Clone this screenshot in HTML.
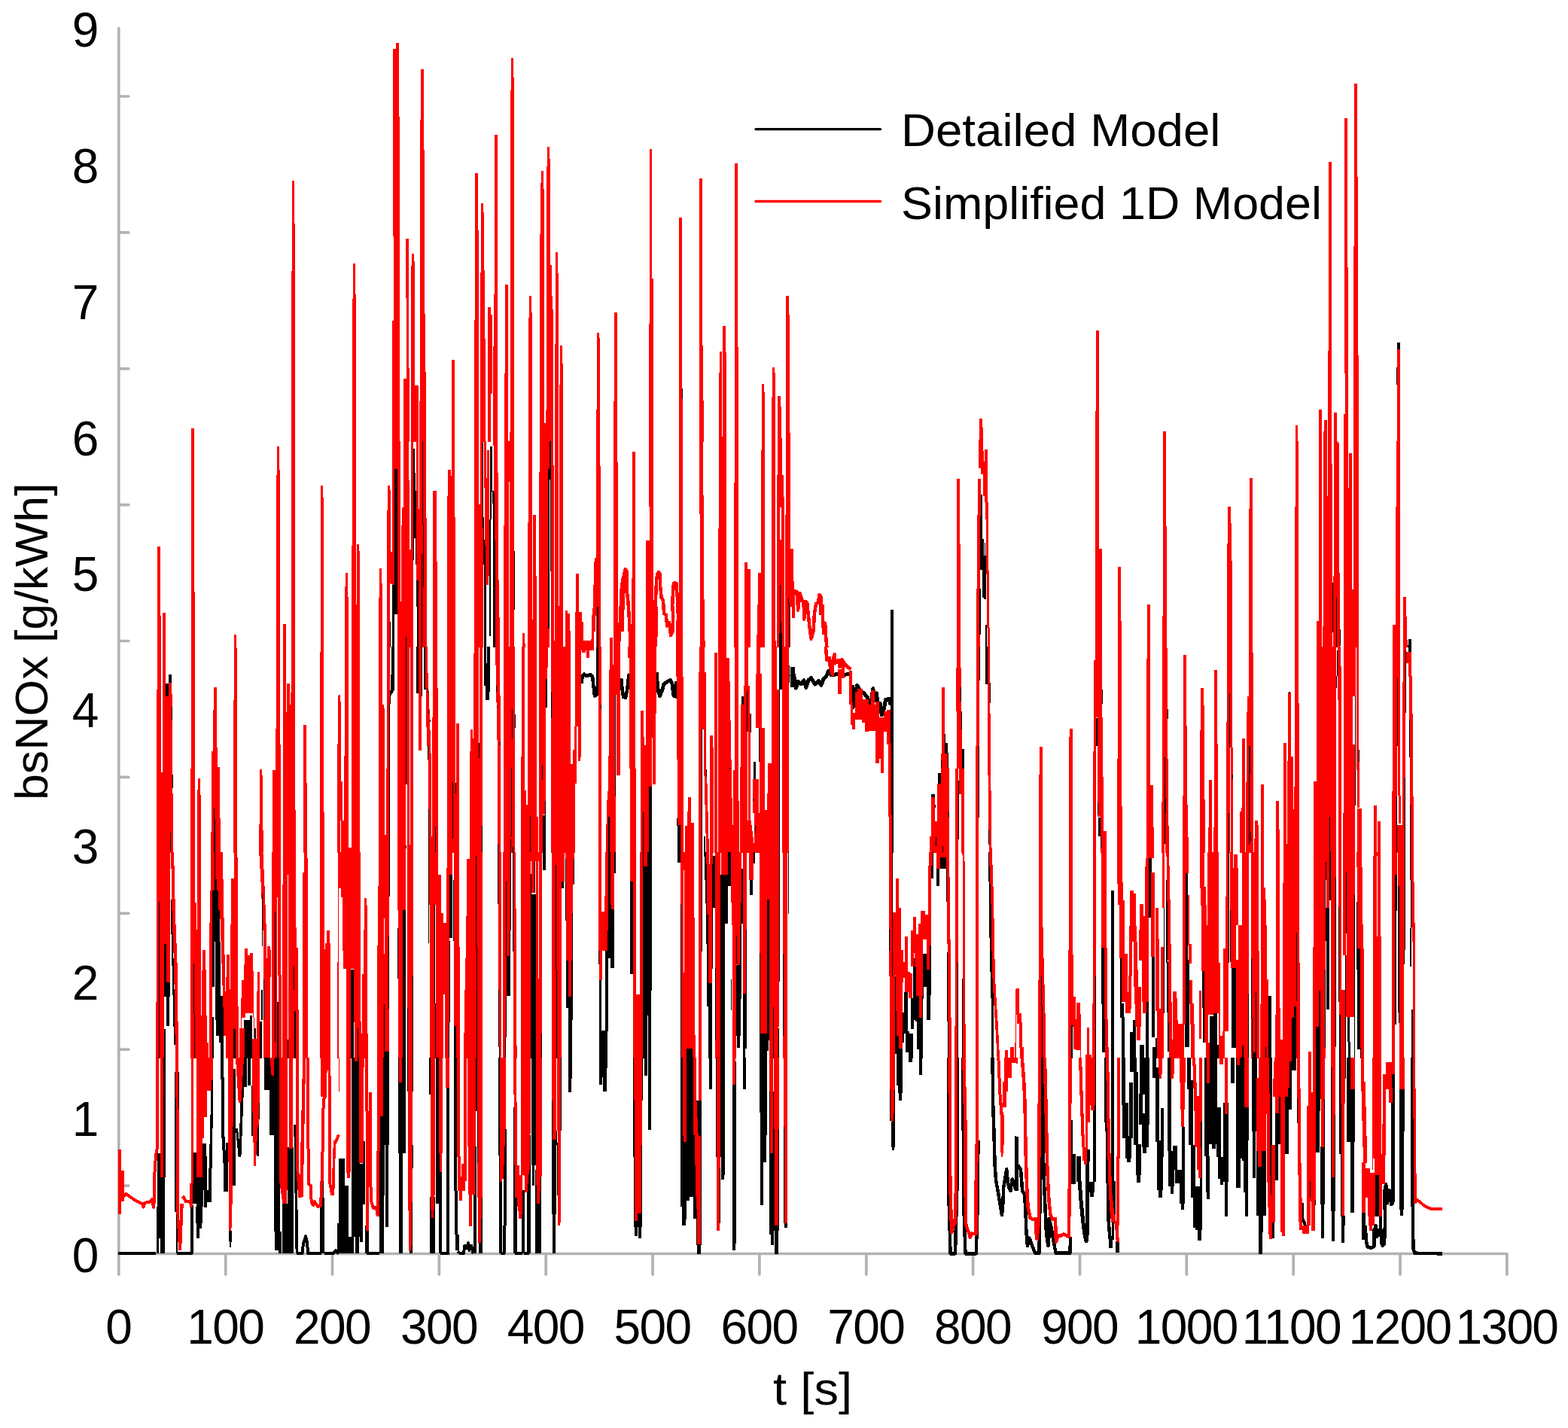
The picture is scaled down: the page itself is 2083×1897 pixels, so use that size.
<!DOCTYPE html>
<html lang="en">
<head>
<meta charset="utf-8">
<title>bsNOx [g/kWh] vs t [s]</title>
<style>
html,body{margin:0;padding:0;background:#fff;}
body{width:2083px;height:1897px;overflow:hidden;}
svg{display:block;}
text{font-family:"Liberation Sans",sans-serif;fill:#000;}
</style>
</head>
<body>
<svg xmlns="http://www.w3.org/2000/svg" width="2083" height="1897" viewBox="0 0 2083 1897">
<rect x="0" y="0" width="2083" height="1897" fill="#ffffff"/>
<g stroke="#b2b2b2" stroke-width="3.7" stroke-linecap="round" fill="none">
<line x1="157.8" y1="37.6" x2="157.8" y2="1693.0"/>
<line x1="157.8" y1="1665.5" x2="2001.9" y2="1665.5"/>
<line x1="299.7" y1="1665.5" x2="299.7" y2="1693.0"/>
<line x1="441.5" y1="1665.5" x2="441.5" y2="1693.0"/>
<line x1="583.4" y1="1665.5" x2="583.4" y2="1693.0"/>
<line x1="725.2" y1="1665.5" x2="725.2" y2="1693.0"/>
<line x1="867.0" y1="1665.5" x2="867.0" y2="1693.0"/>
<line x1="1008.9" y1="1665.5" x2="1008.9" y2="1693.0"/>
<line x1="1150.8" y1="1665.5" x2="1150.8" y2="1693.0"/>
<line x1="1292.6" y1="1665.5" x2="1292.6" y2="1693.0"/>
<line x1="1434.5" y1="1665.5" x2="1434.5" y2="1693.0"/>
<line x1="1576.3" y1="1665.5" x2="1576.3" y2="1693.0"/>
<line x1="1718.2" y1="1665.5" x2="1718.2" y2="1693.0"/>
<line x1="1860.0" y1="1665.5" x2="1860.0" y2="1693.0"/>
<line x1="2001.9" y1="1665.5" x2="2001.9" y2="1693.0"/>
<line x1="157.8" y1="1575.1" x2="170.8" y2="1575.1"/>
<line x1="157.8" y1="1394.2" x2="170.8" y2="1394.2"/>
<line x1="157.8" y1="1213.3" x2="170.8" y2="1213.3"/>
<line x1="157.8" y1="1032.4" x2="170.8" y2="1032.4"/>
<line x1="157.8" y1="851.5" x2="170.8" y2="851.5"/>
<line x1="157.8" y1="670.7" x2="170.8" y2="670.7"/>
<line x1="157.8" y1="489.8" x2="170.8" y2="489.8"/>
<line x1="157.8" y1="308.9" x2="170.8" y2="308.9"/>
<line x1="157.8" y1="128.0" x2="170.8" y2="128.0"/>
</g>
<g shape-rendering="crispEdges">
<g>
<path fill="#f00" d="M387.8 240.1H390.8V503.5H387.8ZM389.6 297.1H391.8V503.5H389.6ZM386.9 359.6H388.4V503.5H386.9Z"/>
</g>
<g>
<path fill="#000" d="M224.4 896.4H227.5V900.5H224.4Z"/>
<path fill="#f00" d="M209.2 726.3H212.8V900.5H209.2ZM212.3 818.3H214.3V900.5H212.3ZM216.3 814.3H219.9V900.5H216.3ZM254.3 569.3H257.9V900.5H254.3ZM257.4 785.9H259.2V900.5H257.4ZM311 843.3H313.9V900.5H311ZM313.5 861.1H315.3V900.5H313.5ZM368.2 593.2H370.9V900.5H368.2ZM367.1 631.1H368.8V900.5H367.1ZM370.4 624H372.2V900.5H370.4ZM376 829.4H379.8V900.5H376ZM387.2 489.5H391.8V900.5H387.2ZM426 645.2H428.9V900.5H426ZM428.5 661.3H430V900.5H428.5ZM424.9 866.3H426.5V900.5H424.9Z"/>
</g>
<g>
<path fill="#000" d="M224.1 899.5H228.1V908.2H224.1ZM220.2 908.2H224V926H220.2Z"/>
<path fill="#f00" d="M209.2 899.5H214V1132.5H209.2ZM208 916.1H209.5V1132.5H208ZM213.7 1025.7H215.8V1132.5H213.7ZM215.9 899.5H219.9V1132.5H215.9ZM224 907.4H228.4V1132.5H224ZM219.6 925.3H224.4V1132.5H219.6ZM227.4 907.4L228.4 907.4L230.1 1132.5L228.1 1132.5ZM254.2 899.5H258.9V1132.5H254.2ZM253 1021.3H254.5V1132.5H253ZM262.8 1034.4H265.8V1132.5H262.8ZM262.1 1049.1H263.1V1132.5H262.1ZM265.5 1056H267V1132.5H265.5ZM283.9 913.4H287.8V1132.5H283.9ZM282.9 943.2H284.2V1132.5H282.9ZM281 998.2H283.2V1132.5H281ZM279.9 1105.1H281.2V1132.5H279.9ZM287.5 993H289.1V1132.5H287.5ZM288.8 1019H292V1132.5H288.8ZM291.7 1087.2H293V1132.5H291.7ZM311.2 899.5H314.9V1132.5H311.2ZM310 930.1H311.5V1132.5H310ZM344.9 1022.3H347.9V1132.5H344.9ZM347.6 1030.2H349.1V1132.5H347.6ZM348.8 1103.1H350V1132.5H348.8ZM343.9 1094.9H345.2V1132.5H343.9ZM362.1 1023.2H366.1V1132.5H362.1ZM367 899.5H371.7V1132.5H367ZM365.9 968.2H367.3V1132.5H365.9ZM371.4 989H372.9V1132.5H371.4ZM375.9 899.5H380.2V1132.5H375.9ZM381.1 908.2H385.1V1132.5H381.1ZM379.9 945.8H381.4V1132.5H379.9ZM387.1 899.5H391.8V1132.5H387.1ZM384.8 935.7H387.4V1132.5H384.8ZM386 920.1H387.4V1132.5H386ZM391.5 1076H393.2V1132.5H391.5ZM403 963.2H406.7V1132.5H403ZM406.4 1039.9H407.9V1132.5H406.4ZM425 899.5H429.8V1132.5H425ZM429.5 1079H431V1132.5H429.5ZM449.1 923.8H450V1132.5H449.1ZM448.1 988.1H450V1132.5H448.1Z"/>
<path fill="#000" d="M228 939H228.9V956.8H228ZM228.9 1029H229.8V1046.9H228.9ZM225.9 1106.1H226.8V1129.9H225.9ZM283.9 1074.1H284.8V1089.7H283.9ZM284.4 1089H285.9V1132.5H284.4Z"/>
</g>
<g>
<path fill="#000" d="M218.2 1254H220.8V1324H218.2ZM218.2 1305.4H225.9V1324H218.2ZM221.1 1324H225.3V1362.7H221.1ZM217 1367.1H219.6V1405.5H217ZM226.6 1195.2L228.6 1195.2L230.1 1255.5L227.8 1255.5ZM227.8 1255.5L230.1 1255.5L231.8 1325.5L229.6 1325.5ZM229.6 1325.5L231.8 1325.5L233 1388L231.1 1388ZM284.4 1131.5H285.9V1167.7H284.4ZM283.2 1167.7H287.6V1182.6H283.2ZM282.4 1182.6H289.9V1209.4H282.4ZM282.1 1209.4H292.4V1251H282.1ZM282.1 1251H284.7V1310.6H282.1ZM286.2 1251H292.9V1322.5H286.2ZM286.2 1322.5H296.6V1355.2H286.2ZM286.9 1355.2H296.6V1376H286.9ZM290.6 1376H297.3V1385H290.6ZM293.3 1385H297.3V1405.5H293.3ZM281 1350.8H283.9V1405.5H281ZM324.4 1355.2H334.5V1405.5H324.4ZM332.3 1349.3H334.5V1355.2H332.3ZM337.8 1365.6H340V1379.8H337.8ZM346.9 1315H348.8V1355.2H346.9ZM344.9 1356.7H347.9V1405.5H344.9ZM350.1 1363.4H358V1405.5H350.1ZM368.2 1331.4H370.1V1405.5H368.2Z"/>
<path fill="#f00" d="M208 1131.5H212.5V1405.5H208ZM207 1331.4H208.3V1405.5H207ZM212.2 1131.5H218.2V1405.5H212.2ZM217.7 1131.5H220.8V1254H217.7ZM220.5 1131.5H225.9V1305.4H220.5ZM227.1 1131.5L231.1 1131.5L233 1215.3L228.6 1215.3ZM228.6 1215.3L233 1215.3L235.6 1280.8L231.1 1280.8ZM231.1 1280.8L235.6 1280.8L237.1 1405.5L233 1405.5ZM253.1 1131.5H259.4V1405.5H253.1ZM259.1 1199H260.6V1405.5H259.1ZM260.3 1234.7H261.6V1405.5H260.3ZM262.4 1131.5H267.1V1405.5H262.4ZM269 1262.2H272.8V1405.5H269ZM268 1289H269.3V1405.5H268ZM272.5 1288.2H274.3V1405.5H272.5ZM266.8 1348.5H275V1405.5H266.8ZM274.7 1385H276.5V1405.5H274.7ZM280.2 1131.5H284.7V1182.6H280.2ZM278.9 1182.6H282.4V1405.5H278.9ZM278 1226H279.5V1405.5H278ZM285.9 1131.5H296.1V1167.7H285.9ZM287.6 1167.7H297.3V1182.6H287.6ZM289.9 1182.6H297.3V1209.4H289.9ZM292.1 1209.4L297.3 1209.4L300 1340.3L296.6 1340.3ZM301.3 1268.2H305.2V1405.5H301.3ZM300 1297.9H301.8V1405.5H300ZM310.7 1131.5H315.2V1405.5H310.7ZM307.3 1167H311V1405.5H307.3ZM306 1228H307.7V1405.5H306ZM314.9 1139.4H316.2V1405.5H314.9ZM304.8 1313.5H306.5V1405.5H304.8ZM296.6 1337.4H303.3V1376H296.6ZM303 1337.4H317.4V1405.5H303ZM325.1 1260H328.6V1346.3H325.1ZM328.3 1268.9H332.3V1346.3H328.3ZM331.8 1266.4H336V1346.3H331.8ZM324.1 1280.8H325.6V1352.2H324.1ZM321.1 1301.6H324.4V1352.2H321.1ZM320.1 1325.5H321.4V1405.5H320.1ZM335.7 1289.7H337.2V1352.2H335.7ZM318.2 1366.4H324.9V1405.5H318.2ZM336.8 1352.2H338.2V1379H336.8ZM334.5 1379.8H344.9V1405.5H334.5ZM342 1291.2H344.9V1405.5H342ZM340.9 1317.3H342.3V1405.5H340.9ZM344.2 1131.5L349.4 1131.5L351.2 1169.2L346.4 1169.2ZM346.4 1169.2L351.2 1169.2L353.9 1236.2L349.4 1236.2ZM350.1 1236.2H354.2V1405.5H350.1ZM355.1 1257.4H359.1V1405.5H355.1ZM358.8 1262.2H360.3V1297.9H358.8ZM353.9 1272.6H355.4V1405.5H353.9ZM361.3 1131.5H367.6V1405.5H361.3ZM367.3 1131.5H369.5V1191.5H367.3ZM369.2 1131.5H373.2V1295.7H369.2ZM370.2 1294.9H374V1405.5H370.2ZM376.2 1131.5H381.8V1405.5H376.2ZM382.9 1131.5H392.6V1405.5H382.9ZM381.5 1131.5H383.2V1161.8H381.5ZM381.5 1380.5H383.2V1405.5H381.5ZM375.1 1175.2H376.5V1405.5H375.1ZM392.3 1231.7H393.8V1405.5H392.3ZM393.5 1258.5H395.8V1405.5H393.5ZM395.5 1341.1H397V1405.5H395.5ZM403.7 1131.5H408.2V1405.5H403.7ZM401.9 1158.8H404V1405.5H401.9ZM407.9 1140.2H409.1V1405.5H407.9ZM425.3 1131.5H431V1405.5H425.3ZM434.2 1236.2H437.9V1405.5H434.2ZM432 1253.3H434.5V1405.5H432ZM437.6 1253.3H439.1V1405.5H437.6ZM430.7 1260.7H432.3V1405.5H430.7ZM447.6 1277.8H450V1405.5H447.6ZM449.1 1131.5H450V1405.5H449.1Z"/>
<path fill="#000" d="M211 1198.2H211.9V1405.5H211ZM257 1280.1H257.9V1346.3H257ZM257.6 1346.3H259.1V1405.5H257.6ZM310.3 1366.8H312.9V1405.5H310.3ZM348.1 1187.1H349.2V1257H348.1ZM350.1 1300.9H351V1355.2H350.1ZM365.3 1212.4H366.2V1385H365.3ZM390 1283H391.2V1315H390ZM390.9 1343.3H392.7V1405.5H390.9ZM382 1380.5H383.2V1405.5H382Z"/>
</g>
<g>
<path fill="#000" d="M208 1602.9H211.3V1665.4H208ZM209.2 1531.5H213.5V1645.3H209.2ZM213.2 1563.9H218.5V1665.4H213.2ZM217.4 1404.5H219.9V1563.9H217.4ZM232.3 1424.3H238.1V1610.4H232.3ZM233.8 1610.4H236.3V1665.4H233.8ZM253.4 1601.4H256.8V1665.4H253.4ZM256 1530.7H260.9V1598.5H256ZM260.9 1563.9H269.8V1602.9H260.9ZM260.1 1602.9H269V1625.2H260.1ZM261.3 1625.2H267.6V1631.9H261.3ZM261.3 1631.2H264.9V1644.9H261.3ZM269 1518.8H273.5V1580.6H269ZM270.8 1536H274.7V1603.7H270.8ZM273.5 1580.6H281V1597H273.5ZM280.7 1434.8L283.5 1434.8L281.7 1552.3L277.7 1552.3ZM277.2 1552.3H281.2V1583.6H277.2ZM293.3 1404.5L297.3 1404.5L298.1 1503.2L294 1503.2ZM294 1503.2L298.1 1503.2L300.6 1546.4L296.6 1546.4ZM296.6 1546.4H303V1582.8H296.6ZM300.3 1518.1H303.3V1546.4H300.3ZM304 1634.9L308.5 1634.9L307 1657.2L304.8 1657.2ZM309.2 1419.9H313.2V1574.6H309.2ZM312.9 1498.8L315.9 1498.8L320.4 1537.4L316.7 1537.4ZM320.4 1434.8L324.4 1434.8L320.4 1537.4L317 1537.4ZM321.1 1404.5H327.8V1443.7H321.1ZM328.6 1404.5H333V1442.2H328.6ZM342.7 1454.1L345.2 1454.1L343.5 1536L340.9 1536ZM334.2 1442.2H336.3V1509.2H334.2ZM350.9 1404.5H357.6V1448.2H350.9ZM357.6 1404.5H371V1507.7H357.6ZM364.3 1507.7H371.7V1635.7H364.3ZM365 1635.7H369.5V1661H365ZM370.2 1635.7H374V1665.4H370.2ZM375.4 1598.5H382.1V1665.4H375.4ZM382.1 1524H389.6V1665.4H382.1ZM390.3 1494.3L394 1494.3L396.3 1665.4L392.6 1665.4ZM427.7 1479.4H430.1V1591H427.7ZM425.3 1591H431.2V1665.4H425.3ZM448.4 1625.2H450V1665.4H448.4Z"/>
<path fill="none" stroke="#000" stroke-width="4" stroke-linejoin="round" d="M157.1 1665.4L207.3 1665.4M234.8 1665.4L255.7 1665.4M394 1665.4L401.5 1665.4L403 1652L406 1642.4L408.2 1650.5L408.9 1664.7L426.8 1665.4M430.5 1665.4L441.7 1665.4L443.9 1663.9L446.1 1661L448.4 1663.9L450 1665.4"/>
<path fill="#f00" d="M157.1 1527H160.7V1613.3H157.1ZM160.4 1555.3H164.6V1595.5H160.4ZM207.3 1404.5H211V1525.5H207.3ZM213.2 1404.5H217.3V1563.9H213.2ZM232.6 1404.5L236.6 1404.5L237.8 1494.3L234.1 1494.3ZM234.1 1494.3L237.8 1494.3L238.1 1613.3L234.5 1613.3ZM234.5 1613.3L238.1 1613.3L240.8 1661L237.1 1661ZM239.3 1598.5L243.8 1598.5L241.1 1661L237.8 1661ZM253.7 1404.5H257.1V1571.7H253.7ZM252.4 1571.7H256V1603.7H252.4ZM261.3 1404.5H269.3V1564.2H261.3ZM269 1404.5H270.8V1512.1H269ZM270.8 1404.5H275V1483.9H270.8ZM274.7 1404.5H281V1449.3H274.7ZM280.7 1404.5H283.2V1434.8H280.7ZM303.3 1404.5L310.4 1404.5L308.5 1601.4L303.6 1601.4ZM303.6 1601.4L308.5 1601.4L307.4 1634.9L304.5 1634.9ZM312.9 1404.5L324.1 1404.5L320.4 1464.5L316.7 1464.5ZM334.5 1404.5H344.9V1454.1H334.5ZM334.8 1454.1L344.9 1454.1L343.5 1494.3L336 1494.3ZM336 1494.3L342.7 1494.3L339.7 1548.6L337.2 1548.6ZM358.3 1404.5L364.6 1404.5L363.5 1428.8L360.6 1428.8ZM370.7 1404.5H382.1V1568.7H370.7ZM371 1568.7L382.1 1568.7L380.7 1598.5L375.4 1598.5ZM384.1 1404.5H388.5V1526.3H384.1ZM392.9 1404.5H396.7V1553.8H392.9ZM393.3 1553.8L397 1553.8L401.5 1591L396.3 1591ZM402.2 1404.5L406.2 1404.5L402.7 1589.5L397.8 1589.5ZM425.6 1404.5H432.7V1457.1H425.6ZM435.4 1404.5L439.4 1404.5L440.2 1573.2L436.5 1573.2ZM436.5 1573.2L440.2 1573.2L443.9 1588L439.4 1588ZM442.9 1515.1L446.1 1515.1L444.3 1587.3L440.2 1587.3Z"/>
<path fill="none" stroke="#f00" stroke-width="4" stroke-linejoin="round" d="M163.4 1591L167.1 1585.8L172.3 1589.5L179.8 1594.7L187.2 1598.5L189 1598.5L190.5 1603.7L192.4 1597.7L199.1 1597L202.1 1592.8L203.9 1603.7L205.4 1591.8L204.8 1571.7L205.8 1550.8L207.3 1533L209.1 1524M242.6 1592.5L244 1590.3L246.7 1596.2L252.7 1595.5L254.2 1602.9M408.6 1405L408.9 1507.7L410.1 1544.9L410.4 1573.2L412.6 1574.6L413.7 1597L416.4 1601.4L417.9 1596.2L422.3 1602.9L426 1601.4L427.1 1580.6L428.3 1546.4L429.2 1479.4L430.1 1460.1L432 1457.1L432.7 1413.9L433.2 1405M444.6 1519.6L450 1507.7"/>
</g>
<g>
<path fill="#f00" d="M522 65.3H526.2V313.5H522ZM525.9 57.1H529.9V313.5H525.9ZM529.6 154.9H531.1V313.5H529.6ZM559.1 92.1H562.6V313.5H559.1ZM561.3 100.3H563.1V313.5H561.3ZM558 159H559.8V313.5H558ZM562.4 199.2H564V313.5H562.4ZM631.1 230.2H635V313.5H631.1ZM634.2 306.4H636V313.5H634.2ZM639 270.2H642V313.5H639ZM641.2 282.3H643.2V313.5H641.2ZM657 179.1H660.9V313.5H657ZM678.9 77.2H681.8V313.5H678.9ZM680.7 103.2H682.9V313.5H680.7ZM678 120.1H679.9V313.5H678ZM718.9 227.2H722.2V313.5H718.9ZM718.2 243.1H719.6V313.5H718.2ZM721.1 251.3H723.1V313.5H721.1ZM717.1 310.8H718.6V313.5H717.1ZM727.1 195.1H730.1V313.5H727.1ZM729 211.1H731V313.5H729ZM726 221.1H727.5V313.5H726Z"/>
</g>
<g>
<path fill="#000" d="M561 472.2H562.2V586.5H561ZM730.7 571.2H731.8V586.5H730.7ZM728.9 580.9H730.7V586.5H728.9Z"/>
<path fill="#f00" d="M469 349.9H472V586.5H469ZM468 397.1H470.1V586.5H468ZM471 391.1H473.1V586.5H471ZM522.5 312.5H531.1V586.5H522.5ZM521 426.1H531.1V586.5H521ZM539.3 317.2L543 317.2L543.8 586.5L540 586.5ZM536 502.7H540.8V586.5H536ZM547 337.1H550V586.5H547ZM546 352.9H548.1V586.5H546ZM549 346.9H551V586.5H549ZM551.2 512.4H556V586.5H551.2ZM558.2 312.5H563.8V586.5H558.2ZM563.1 417.2H564.9V586.5H563.1ZM563.8 493.8H566.1V586.5H563.8ZM557.1 533.2H558.6V586.5H557.1ZM600.1 478.2H604.1V586.5H600.1ZM631.1 312.5H636V586.5H631.1ZM630.1 424.9H631.5V586.5H630.1ZM639 312.5H643V586.5H639ZM637.9 361.8H639.7V586.5H637.9ZM641.2 312.5L643 312.5L644.9 484.1L642 484.1ZM642 484.1H644.9V586.5H642ZM648.2 408.2H651.9V586.5H648.2ZM651.6 418.4H654.2V522.8H651.6ZM654.6 459.6H657.1V586.5H654.6ZM656.8 312.5H661V586.5H656.8ZM656.1 391.1H657.6V586.5H656.1ZM671.3 378H675V586.5H671.3ZM669.9 496H671.7V586.5H669.9ZM678.1 312.5H682.9V586.5H678.1ZM676.9 574.2H678.4V586.5H676.9ZM703 393.4H706V586.5H703ZM701.8 421.9H703.3V586.5H701.8ZM705.7 414.9H707V586.5H705.7ZM717.1 312.5H723.1V586.5H717.1ZM726.3 312.5H730.8V586.5H726.3ZM730.5 352.4H732.7V586.5H730.5ZM732.4 393.4H733.9V586.5H732.4ZM733.5 411.2H735V586.5H733.5ZM723.1 561.5H726.3V586.5H723.1ZM724.9 545.1H726.3V586.5H724.9ZM737.9 335H740.9V586.5H737.9ZM740.6 362.9H742V586.5H740.6ZM736.9 457H738.2V586.5H736.9ZM743.9 459.1H746.9V586.5H743.9ZM742.9 510.9H744.2V586.5H742.9ZM746.6 483.4H748.1V586.5H746.6Z"/>
</g>
<g>
<path fill="#000" d="M524.4 622.5H528.3V815.9H524.4ZM521.1 777.2H524.4V839H521.1ZM521.1 839H523.7V859.5H521.1ZM517.9 826.3H519V859.5H517.9ZM549.4 596.4H551.2V627.7H549.4ZM549.4 627.7H552.4V651.5H549.4ZM549.4 651.5H553V714.7H549.4ZM549 714.7H549.9V743.7H549ZM551.9 714.7H553V749.7H551.9ZM553.1 770.5H555.7V806.2H553.1ZM553.7 806.2H556V859.5H553.7ZM641.2 687.2H643V719.9H641.2ZM642.4 717H644.9V749.7H642.4ZM643 749.7H646.4V859.5H643ZM650.9 593.1H654.2V653H650.9ZM651.3 653H653.3V690.2H651.3ZM649.9 690.2H651.9V844.9H649.9ZM654.2 651.5H656.8V669.3H654.2ZM654.9 661.1H657.9V859.5H654.9ZM728.7 585.5H732.3V637.3H728.7Z"/>
<path fill="#f00" d="M458.9 761.3H461.9V859.5H458.9ZM457.9 779.2H459.2V859.5H457.9ZM461.6 793.1H463.1V859.5H461.6ZM468.2 585.5H473.1V859.5H468.2ZM466.8 725.1H468.6V859.5H466.8ZM473.8 723.2H477.1V859.5H473.8ZM476.8 732.1H478.3V859.5H476.8ZM472.8 803H474.1V859.5H472.8ZM503.9 755.2H507V859.5H503.9ZM502.8 794H504.3V859.5H502.8ZM506.7 775.3H508.2V859.5H506.7ZM514 678H518V859.5H514ZM515 645.2H518V678H515ZM517.7 651.2H519.2V775H517.7ZM518.9 733.3H521.4V775.7H518.9ZM521.1 585.5H524.4V777.2H521.1ZM524.4 585.5H528.3V622.5H524.4ZM528.1 585.5H531.5V859.5H528.1ZM531.5 798.8H533.3V859.5H531.5ZM536.3 585.5H543.3V859.5H536.3ZM534.4 674.1H536.6V859.5H534.4ZM533 697.9H534.8V859.5H533ZM543 638.1H544.3V859.5H543ZM544.3 730H546.7V859.5H544.3ZM546.4 585.5H549.4V859.5H546.4ZM552.7 585.5H556.1V770.5H552.7ZM556 676H560.9V859.5H556ZM557.4 585.5H566.1V859.5H557.4ZM565.8 687.9H567.1V859.5H565.8ZM575.4 652.2H579.8V859.5H575.4ZM579.5 746H581V859.5H579.5ZM595.1 624.4H598.8V859.5H595.1ZM594 658.9H595.5V859.5H594ZM598.8 632.1H600.3V859.5H598.8ZM600 585.5H604V859.5H600ZM603.7 687.2H605.1V859.5H603.7ZM630.1 585.5H636V859.5H630.1ZM635.7 670.1H638.1V859.5H635.7ZM637.8 585.5H642V859.5H637.8ZM642.7 585.5L645.7 585.5L648.8 776.5L645.2 776.5ZM647.2 597.9H650.4V764.6H647.2ZM655.4 585.5L661.3 585.5L662.1 749.7L658 749.7ZM658 749.7L662.1 749.7L664.3 859.5L658.3 859.5ZM669.9 585.5H676.2V859.5H669.9ZM668.8 698.4H670.2V859.5H668.8ZM675.9 585.5H678V639.9H675.9ZM677.4 585.5H683.3V859.5H677.4ZM693.6 841.2H697V859.5H693.6ZM696.3 854.6H697.5V859.5H696.3ZM701.9 585.5H707V859.5H701.9ZM700.9 694.3H702.4V859.5H700.9ZM706.7 822.6H708.5V859.5H706.7ZM708.2 684.2H711.9V859.5H708.2ZM711.6 765.3H713.1V859.5H711.6ZM717.1 585.5H729.5V859.5H717.1ZM715.9 626.9H717.4V859.5H715.9ZM732 585.5H735V859.5H732ZM734.7 618H736.2V859.5H734.7ZM735.9 850.9H737.5V859.5H735.9ZM737.2 585.5H742V859.5H737.2ZM741.7 804.8H743.5V859.5H741.7ZM743.2 585.5H748.4V859.5H743.2Z"/>
<path fill="#000" d="M538.8 845.7H539.7V859.5H538.8ZM561.2 585.5H562.1V696.1H561.2ZM560 736.3H560.8V859.5H560ZM562.2 696.1H563.1V779.5H562.2ZM641.2 588.2H642.1V700.6H641.2ZM682.9 732.1H683.8V810H682.9ZM730.8 637.3H731.7V758.6H730.8ZM728.4 623.2H729.6V834.5H728.4Z"/>
</g>
<g>
<path fill="#000" d="M520.2 858.5H523.8V896.2H520.2ZM518.5 896.2H523.8V917H518.5ZM518.5 917L523.8 917L518.8 925.2L517.7 925.2ZM517.4 925.2H518.8V934.9H517.4ZM553.1 858.5H556.1V920.8H553.1ZM563.4 858.5H565.5V915.5H563.4ZM643.2 858.5H646.1V911.1H643.2ZM647.2 858.5H651.2V918.5H647.2ZM644.9 881.3H650.1V930.4H644.9ZM720.8 1083H724.7V1132.5H720.8Z"/>
<path fill="#f00" d="M450 923H451.8V1132.5H450ZM450 931.9H453.3V1037.6H450ZM450.7 1037.6H454.5V1089.7H450.7ZM453.3 1089.7H456.7V1132.5H453.3ZM455.2 1126.1H467.1V1132.5H455.2ZM458.2 858.5H462.9V1132.5H458.2ZM457 1004.1H458.5V1132.5H457ZM467.1 858.5H478V1132.5H467.1ZM503.1 858.5H508V1132.5H503.1ZM507.7 936.1H510.3V1132.5H507.7ZM510 940.8H511.2V1132.5H510ZM511 1109H513.7V1132.5H511ZM514 858.5H517.7V1132.5H514ZM513.1 1021.2H514.3V1132.5H513.1ZM528.1 858.5H539.3V1132.5H528.1ZM539.3 858.5H544V1042H539.3ZM541.1 1042H544V1132.5H541.1ZM543.8 1122.4H545.5V1132.5H543.8ZM545.2 858.5H549.1V1132.5H545.2ZM556 858.5H560.1V997.4H556ZM564.9 858.5L567.6 858.5L568.3 888.8L565.3 888.8ZM565.3 888.8L568.3 888.8L570.8 948.3L565.8 948.3ZM565.8 948.3L570.8 948.3L572.8 1010L568.3 1010ZM569 1010H573.2V1132.5H569ZM572.9 1110.5H575.3V1132.5H572.9ZM575.3 858.5H581V1132.5H575.3ZM580.7 914.1H582V1132.5H580.7ZM574.1 952.8H575.6V1132.5H574.1ZM594 858.5H605.1V1132.5H594ZM606.2 960.9H610.1V1132.5H606.2ZM604.8 1039.8H606.5V1132.5H604.8ZM625.1 969.1H628.1V1132.5H625.1ZM627.8 981H630.4V1132.5H627.8ZM623.8 998.1H625.6V1132.5H623.8ZM630.1 858.5H636V1132.5H630.1ZM637.2 858.5H641.2V1132.5H637.2ZM635.7 987H637.5V1132.5H635.7ZM629 867.9H630.4V1132.5H629ZM658 858.5L664 858.5L665 987L660.6 987ZM661.3 987H665V1132.5H661.3ZM669 858.5H684.4V1132.5H669ZM693 858.5H697V1132.5H693ZM691.8 1004.8H693.3V1132.5H691.8ZM696.7 1050.2H699V1132.5H696.7ZM698.7 1068.8H701V1132.5H698.7ZM701 858.5H713.1V1132.5H701ZM712.8 1085.2H714.9V1132.5H712.8ZM716.4 858.5H728V886.5H716.4ZM716.4 886.5H726.8V902.2H716.4ZM716.4 902.2H725.3V1082.2H716.4ZM716.4 1082.2H721.1V1132.5H716.4ZM732.3 858.5H750V1132.5H732.3Z"/>
<path fill="#000" d="M517.3 934.9H518.2V1132.5H517.3ZM539.1 858.5H540V1042H539.1ZM538.8 1123.1H539.7V1126.9H538.8ZM560 858.5H560.9V924.5H560ZM568.2 914.1H569V920H568.2ZM569.3 943.8H570.2V948.3H569.3ZM570.8 955.7H571.7V958.7H570.8ZM568.2 990H569V1008.6H568.2ZM569 1074.8H569.9V1132.5H569ZM577.8 1098.9H578.7V1132.5H577.8ZM601 1039.1H601.9V1113.5H601ZM605.1 1039.8H606V1053.9H605.1ZM636 987H636.9V1007.1H636ZM640 1097.1H640.9V1132.5H640ZM658.5 911.1H659.7V918.5H658.5ZM660.1 937.9H661V940.1H660.1ZM663.8 986.2H664.7V990H663.8ZM660.9 1120.9H661.8V1132.5H660.9ZM679.9 942.3H680.8V981H679.9ZM679.2 1020H680.1V1110.5H679.2ZM683.9 949H684.8V966.9H683.9ZM677.5 1115H678.7V1132.5H677.5ZM681 1125.4H681.8V1132.5H681ZM704 1084.4H704.9V1132.5H704ZM725.4 902.2H726.6V940.1H725.4ZM720.1 1016H721V1036.1H720.1ZM724.2 1064.4H724.9V1083H724.2ZM732.1 919.3H732.8V953.5H732.1Z"/>
</g>
<g>
<path fill="#000" d="M466.1 1287.5H470.1V1405.5H466.1ZM510 1334.4H512.2V1396.9H510ZM510 1396.9H517V1405.5H510ZM534.8 1209.4H539V1405.5H534.8ZM597 1161.8H601V1245.8H597ZM603.3 1361.2H607V1405.5H603.3ZM577.2 1332.9H582.7V1405.5H577.2ZM672.5 1270.4H677.7V1322.5H672.5ZM704.8 1187.8H711.6V1242.9H704.8ZM704.8 1242.9H711.9V1405.5H704.8ZM721.1 1131.5H724.6V1155.8H721.1ZM745.4 1169.9H749.4V1180.4H745.4Z"/>
<path fill="#f00" d="M450 1131.5H479V1179.6H450ZM453 1179.6H479V1191.5H453ZM455.2 1191.5H479V1263H455.2ZM456.2 1263H479V1286.8H456.2ZM459.7 1286.8H465.9V1405.5H459.7ZM469.6 1286.8H479V1358.2H469.6ZM470.8 1356.7H479.8V1405.5H470.8ZM483.9 1193H487.2V1405.5H483.9ZM486.9 1203.1H488.1V1405.5H486.9ZM483 1234.7H484.2V1405.5H483ZM481 1294.2H483.3V1405.5H481ZM479 1373.1H488.7V1405.5H479ZM503.1 1131.5H517.3V1219.8H503.1ZM502.1 1176.6H503.6V1405.5H502.1ZM501 1256.3H502.4V1405.5H501ZM503.1 1219.8H510.3V1405.5H503.1ZM511.3 1219.8H516.7V1396.9H511.3ZM510 1267.4H511.6V1334.4H510ZM528.1 1131.5H539.3V1209.4H528.1ZM541.1 1131.5H549V1405.5H541.1ZM528.6 1209.4H535.1V1405.5H528.6ZM569.8 1131.5H578.7V1201.9H569.8ZM570.8 1201.9H577.5V1405.5H570.8ZM578.7 1131.5H582.4V1405.5H578.7ZM582.1 1161.8H586.2V1405.5H582.1ZM585.9 1213.1H589.1V1405.5H585.9ZM588.8 1225.8H597.3V1321H588.8ZM593.9 1131.5H601V1161.8H593.9ZM592.9 1152.8H594.3V1225.8H592.9ZM592.9 1161.8H597.3V1225.8H592.9ZM602.5 1131.5L610 1131.5L610.7 1304.6L603.3 1304.6ZM603.3 1304.6H611V1362.7H603.3ZM606.2 1362.7H611V1405.5H606.2ZM578.7 1321H588.4V1347.8H578.7ZM582.4 1346.3H588.4V1405.5H582.4ZM590.6 1321H597.3V1405.5H590.6ZM624.1 1131.5H640.9V1405.5H624.1ZM620.1 1141.2H624.4V1405.5H620.1ZM619 1216.8H620.5V1405.5H619ZM617.9 1272.6H619.3V1405.5H617.9ZM617 1315H618.2V1405.5H617ZM615.9 1371.6H617.3V1405.5H615.9ZM661.8 1131.5L665.5 1131.5L666.5 1405.5L662.8 1405.5ZM668.3 1131.5H672.5V1349.3H668.3ZM667.6 1349.3H671.7V1405.5H667.6ZM672.2 1131.5H678V1270.4H672.2ZM681.7 1131.5L685.1 1131.5L686.6 1405.5L682.4 1405.5ZM692.3 1131.5H704.8V1405.5H692.3ZM704.5 1131.5H720.1V1143.9H704.5ZM706.2 1143.9H710.1V1185.6H706.2ZM711.6 1131.5H715.3V1405.5H711.6ZM716.4 1131.5H719.9V1405.5H716.4ZM715 1300.2H716.7V1405.5H715ZM733 1131.5H750V1170.7H733ZM733 1170.7H746.1V1405.5H733Z"/>
<path fill="#000" d="M475 1365.6H476.2V1405.5H475ZM517 1131.5H517.8V1190.8H517ZM516.1 1244.4H516.9V1340.3H516.1ZM528.1 1233.2H528.8V1300.2H528.1ZM548.1 1295.7H548.9V1405.5H548.1ZM541 1338.8H541.7V1405.5H541ZM569.1 1131.5H569.9V1252.5H569.1ZM577.2 1201.9H578.1V1332.9H577.2ZM602.2 1169.2H602.9V1249.6H602.2ZM596.9 1249.6H597.7V1358.2H596.9ZM596.1 1358.2H597V1405.5H596.1ZM632.4 1137.2H633.1V1258.5H632.4ZM632.7 1258.5H633.9V1405.5H632.7ZM640.6 1131.5H641.2V1405.5H640.6ZM661.1 1131.5H661.8V1200.5H661.1ZM662.1 1314.3H662.9V1390.9H662.1ZM662.8 1390.9H663.7V1405.5H662.8ZM672.1 1171.4H672.8V1270.4H672.1ZM678 1131.5H678.9V1236.2H678ZM676.9 1236.2H677.8V1279.3H676.9ZM671.9 1322.5H672.5V1377.5H671.9ZM671.3 1377.5H672.2V1405.5H671.3ZM681 1131.5H681.8V1263.7H681ZM705.2 1161H706.1V1187.8H705.2ZM710 1143.9H710.9V1186.3H710ZM719 1373.1H719.7V1405.5H719ZM738.2 1149.1H738.9V1288.2H738.2ZM738.7 1288.2H739.9V1405.5H738.7ZM745.5 1180.4H746.2V1405.5H745.5Z"/>
</g>
<g>
<path fill="#000" d="M450 1538.9H458.2V1665.4H450ZM458.2 1574.6H463.4V1665.4H458.2ZM463.4 1643.1H470.1V1665.4H463.4ZM466.8 1404.5H478.3V1643.1H466.8ZM471.6 1637.1H476.8V1665.4H471.6ZM477.5 1546.4H482.4V1649.8H477.5ZM482 1515.9H485.3V1599.9H482ZM485.3 1628.2H489.9V1665.4H485.3ZM503.9 1461.5H509.8V1665.4H503.9ZM509.2 1404.5H517V1521.1H509.2ZM510 1521.1H511.3V1588H510ZM511.8 1521.1H515.8V1630.4H511.8ZM529.3 1404.5H539V1532.2H529.3ZM529.6 1531.5H534.8V1665.4H529.6ZM541.1 1404.5H549V1449.6H541.1ZM544 1597H548.2V1665.4H544ZM569.9 1404.5H572.3V1454.1H569.9ZM571.3 1589.5H578V1665.4H571.3ZM578.7 1404.5H583.2V1598.5H578.7ZM579.5 1509.2H585.7V1598.5H579.5ZM583.2 1556.8H586.6V1665.4H583.2ZM593.2 1430.3H597.3V1665.4H593.2ZM603 1404.5H607.3V1582.1H603ZM604 1582.1H608V1640.1H604ZM604.8 1640.1H610V1661H604.8ZM629.3 1522.6H633.3V1665.4H629.3ZM631.8 1404.5H635.3V1476.4H631.8ZM636 1591H640.5V1665.4H636ZM661.8 1404.5H664.3V1534.5H661.8ZM663.2 1534.5H667.3V1665.4H663.2ZM669 1500.2H673.2V1628.2H669ZM668 1628.2H672V1665.4H668ZM681.8 1470.5H683.9V1568.7H681.8ZM682.1 1568.7H686.9V1665.4H682.1ZM692.6 1580.6H697.3V1665.4H692.6ZM700 1507.7H704.5V1665.4H700ZM705.7 1404.5H712.2V1547.9H705.7ZM707 1546.4H710V1574.6H707ZM711.2 1553.8H719.3V1665.4H711.2ZM733.2 1514.4H739.4V1613.3H733.2ZM733.9 1613.3H737.9V1665.4H733.9Z"/>
<path fill="none" stroke="#000" stroke-width="4" stroke-linejoin="round" d="M487.2 1665.4L504.3 1665.4M584.7 1665.4L596.6 1665.4M607.7 1662.4L612.2 1665.4L615.9 1664.7L617.4 1655L619.6 1658L622.3 1651.3L623.4 1661L626.3 1655L628.6 1665.4M665 1665.4L671 1665.4M684.4 1665.4L694 1665.4M696.3 1665.4L703 1665.4"/>
<path fill="#f00" d="M450 1404.5H450.9V1449.6H450ZM460.1 1404.5H465.9V1553.8H460.1ZM460.1 1553.8L465.9 1553.8L464.6 1565.4L461.2 1565.4ZM470.8 1404.5H475V1409.5H470.8ZM477.2 1404.5H482.7V1544.9H477.2ZM482.4 1404.5H483.9V1417.6H482.4ZM485.3 1404.5H489V1476.4H485.3ZM485.7 1476.4H490.2V1634.9H485.7ZM490.2 1451.4H494V1568.7H490.2ZM500.3 1528.5H504.3V1615.6H500.3ZM501.3 1404.5H508.8V1483.1H501.3ZM501.3 1482.4H504.6V1528.5H501.3ZM529.9 1404.5H534.1V1437.7H529.9ZM541.8 1404.5H548.2V1551.6H541.8ZM542.3 1551.6H547.8V1597H542.3ZM542.3 1597L547.5 1597L546.4 1661.7L543.5 1661.7ZM572 1404.5H577.5V1588H572ZM572 1588L577.2 1588L576.2 1617.5L572.8 1617.5ZM582.9 1404.5H587.9V1532.2H582.9ZM583.9 1532.2H586.9V1557.1H583.9ZM592.1 1404.5H596.6V1444.9H592.1ZM607.3 1404.5H611.2V1537.4H607.3ZM608.2 1536H612.2V1582.1H608.2ZM610 1562.7H614.1V1594.7H610ZM613.2 1546.4H618.2V1582.1H613.2ZM615.5 1404.5H619.9V1568.7H615.5ZM621.1 1404.5H631.8V1522.6H621.1ZM621.9 1522.6H630.8V1587.3H621.9ZM623.1 1586.5H626.6V1629.4H623.1ZM634.1 1404.5H640.5V1591H634.1ZM634.5 1591L640.2 1591L638.7 1650.8L635.3 1650.8ZM664 1404.5H667.3V1569.9H664ZM667.3 1404.5H672V1500.2H667.3ZM667.3 1500.2L671.4 1500.2L668.8 1565.7L666.1 1565.7ZM682.1 1404.5L685.9 1404.5L687.4 1547.9L683.3 1547.9ZM684.4 1547.9H689.9V1591H684.4ZM686.6 1561.2H694V1602.9H686.6ZM688.1 1602.9L694 1602.9L693.3 1619L689.3 1619ZM692.1 1404.5H704.8V1506.2H692.1ZM695.5 1506.2H703.7V1553.8H695.5ZM696.3 1553.8L703 1553.8L700.7 1583.6L697 1583.6ZM691.8 1506.2H695.5V1561.2H691.8ZM712.2 1404.5H719.6V1562.7H712.2ZM712.2 1562.7L718.6 1562.7L716.7 1598.5L713.1 1598.5ZM733.2 1404.5H738.7V1514.4H733.2ZM740.2 1404.5H745.4V1501.7H740.2ZM740.9 1501.7H745.1V1613.3H740.9ZM740.9 1613.3L745.1 1613.3L744.3 1628.2L741.4 1628.2Z"/>
<path fill="none" stroke="#f00" stroke-width="4" stroke-linejoin="round" d="M492.1 1568.7L493.5 1597L496.1 1605.1L499.9 1603.7L501.6 1614.8"/>
<path fill="#000" d="M548.1 1521.1H548.9V1552.3H548.1ZM634.2 1476.4H634.9V1544.9H634.2ZM733.1 1461.5H733.9V1513.6H733.1ZM739.1 1501.7H739.8V1521.1H739.1ZM740.1 1518.1H740.8V1588H740.1ZM745 1404.5H745.8V1501.7H745Z"/>
</g>
<g>
<path fill="#f00" d="M792.8 442.3H796.3V495.5H792.8ZM794.6 449.2H797V495.5H794.6ZM816.1 414.5H819.6V495.5H816.1ZM863.1 198H866.4V495.5H863.1ZM864.8 369.9H868V495.5H864.8ZM862 430.1H864V495.5H862ZM902.2 288.5H905.7V495.5H902.2ZM929.2 237.4H932.7V495.5H929.2ZM931.5 459.1H933.9V495.5H931.5ZM955.5 466.6H959V495.5H955.5ZM960 432.6H964V495.5H960ZM962.5 467.8H965V495.5H962.5ZM976.4 217.3H979.8V495.5H976.4ZM978.6 460.9H981.1V495.5H978.6ZM1026.2 488.4H1029.2V495.5H1026.2ZM1044.2 393.4H1047.9V495.5H1044.2ZM1046.5 417.5H1049V495.5H1046.5Z"/>
</g>
<g>
<path fill="#f00" d="M793.2 494.5H796.9V586.5H793.2ZM792.1 544.1H793.5V586.5H792.1ZM816.2 494.5H819.9V586.5H816.2ZM815 532.9H816.5V586.5H815ZM862.1 494.5L867.6 494.5L868 586.5L862.4 586.5ZM902.1 494.5H906V586.5H902.1ZM905.7 530H907V586.5H905.7ZM929 494.5H933.8V586.5H929ZM933.5 531.9H935V586.5H933.5ZM955.1 494.5H959.1V586.5H955.1ZM960.1 494.5H965V586.5H960.1ZM958.8 579.8H960.4V586.5H958.8ZM975.9 494.5H981V586.5H975.9ZM1011.9 509.9H1014.9V586.5H1011.9ZM1014.6 521H1016.1V586.5H1014.6ZM1026.2 494.5H1029.8V586.5H1026.2ZM1025 528H1026.5V586.5H1025ZM1033.2 526H1036.9V586.5H1033.2ZM1036.6 539.9H1037.9V586.5H1036.6ZM1037.6 582.1H1039V586.5H1037.6ZM1044.3 494.5H1049.1V586.5H1044.3ZM1048.8 575.1H1050V586.5H1048.8Z"/>
<path fill="#000" d="M905.8 515.8H906.7V530H905.8Z"/>
</g>
<g>
<path fill="#f00" d="M751.2 811H754.2V859.5H751.2ZM753.9 815.2H757.1V859.5H753.9ZM756.7 837.5H758.2V859.5H756.7ZM765.2 762.3H768.6V859.5H765.2ZM764.1 812.9H773.1V859.5H764.1ZM772.8 825.6H775V859.5H772.8ZM773.8 850.9H789V859.5H773.8ZM785.3 849.4H787.2V859.5H785.3ZM786.2 817.4H789V859.5H786.2ZM787.2 807.7H790.5V839H787.2ZM788.2 777.2H792.1V818.1H788.2ZM789.1 746H793.2V783.9H789.1ZM790.2 741.1H794.2V783.9H790.2ZM792.4 585.5H796.9V859.5H792.4ZM796.6 619H797.9V859.5H796.6ZM810.3 847.2H814V859.5H810.3ZM815 585.5H819.9V859.5H815ZM819.6 614H821V859.5H819.6ZM840 600.1H843.5V859.5H840ZM843.2 602.1H844.2V859.5H843.2ZM838.8 767.8H840.3V859.5H838.8ZM862.1 585.5L867.6 585.5L868.3 797.3L863.1 797.3ZM863.1 797.3H869V859.5H863.1ZM857.9 718H862.6V859.5H857.9ZM902.1 585.5H907V859.5H902.1ZM898.1 824.1H902.4V859.5H898.1ZM900.7 812.9H902.4V859.5H900.7ZM929 585.5L934.1 585.5L935.3 795.8L930.1 795.8ZM930.1 795.8H936V859.5H930.1ZM935.7 850.9H936.9V859.5H935.7ZM955.1 585.5H965V859.5H955.1ZM953.9 702.1H955.4V859.5H953.9ZM975.9 585.5H981V859.5H975.9ZM974.9 641.1H976.2V859.5H974.9ZM989.1 747H993V859.5H989.1ZM992.7 756.4H997V859.5H992.7ZM1011.9 585.5H1016.1V859.5H1011.9ZM1010.9 597.9H1012.2V859.5H1010.9ZM1007.1 760.9H1011.9V859.5H1007.1ZM1006 803.3H1007.4V859.5H1006ZM1004.9 843.1H1006.2V859.5H1004.9ZM1025 585.5H1030.1V859.5H1025ZM1029.8 850.9H1031V859.5H1029.8ZM1033.2 585.5H1039V630.6H1033.2ZM1032.3 630.6H1041.1V673.8H1032.3ZM1032.3 673.8H1036V859.5H1032.3ZM1037.9 673.8H1042.4V859.5H1037.9ZM1035.7 717H1038.2V859.5H1035.7ZM1040.9 660.4H1042.1V675.3H1040.9ZM1044.3 585.5H1050V859.5H1044.3ZM1042.9 684.2H1044.6V859.5H1042.9Z"/>
<path fill="none" stroke="#f00" stroke-width="4" stroke-linejoin="round" d="M826.6 839L827.7 804.8L828.9 779.5L831.1 764.6"/>
<path fill="none" stroke="#f00" stroke-width="4.5" stroke-linejoin="round" d="M821.7 859.8L823.2 839L824.4 813.7L825.6 783.9L827.1 771.3L829.2 763.1L830.7 756.4L832.3 758.6L833 786.9L834.5 800.3L835.6 816.7L836.6 836L837.8 859.8M870.5 859.1L871.7 839L871.1 794.3L872 772L873.2 762.3L875 760.1L876.5 762.3L877.2 779.5L878.7 794.3L881 797.3L882.1 815.2L884.7 816.7L886.2 831.5L889.1 827.1L891.1 844.2L893.6 839L894.3 818.1L893.2 804.8L894 787.6L894.9 775L896.6 774.2L898.5 775L899.3 787.6L900.3 798.8L901 824.1"/>
<path fill="#000" d="M793 806.2H794.8V859.5H793ZM1036 777.2H1036.9V827.1H1036ZM1036.2 827.1H1037.6V840.5H1036.2ZM1035 840.5H1038.5V859.5H1035ZM1047.2 795.1H1048.1V803.3H1047.2ZM1047.8 803.3H1049V859.5H1047.8Z"/>
</g>
<g>
<path fill="#000" d="M792.1 858.5H795.1V921.5H792.1ZM860.9 1045H866.1V1132.5H860.9ZM984.8 924.5H987.8V937.1H984.8ZM1001.2 1012.3H1004V1034.6H1001.2ZM1035 858.5H1039.4V915.5H1035Z"/>
<path fill="none" stroke="#000" stroke-width="4.5" stroke-linejoin="round" d="M772.3 908.1L773.8 898.4L776 895.5L779 898L784.2 896.2L787.2 899.2L788.4 911.1L789.9 924.5L792.4 923L793.9 911.1M825.1 900.7L826.6 915.5L828.1 926L831.1 926.7L833.3 915.5L834.8 902.2L836 894.7"/>
<path fill="none" stroke="#000" stroke-width="5" stroke-linejoin="round" d="M872.3 893.2L873.2 908.1L874.3 917L876.5 924.5L879.5 917L881.7 909.6L883.9 907.4L886.9 905.1L890.6 903.6L892.9 908.1L895.1 924.5L898.1 925.2L898.8 905.1"/>
<path fill="#f00" d="M750 858.5H757.9V1132.5H750ZM757.9 1015.2H763.7V1132.5H757.9ZM761.2 995.9H766.4V1040.5H761.2ZM763.1 965.4H766.1V1007.8H763.1ZM764.1 858.5H772V965.4H764.1ZM763.4 965.4H764.9V995.9H763.4ZM767.6 965.4H772V1005.6H767.6ZM768.2 1005.6H771.3V1010.8H768.2ZM772 858.5H789V863.5H772ZM773.1 858.5H777.8V867.2H773.1ZM778.6 858.5H782.7V873.9H778.6ZM794.9 858.5H798.8V1132.5H794.9ZM810.3 858.5H814.3V1132.5H810.3ZM815.2 858.5H824.4V923H815.2ZM814 882.8H817.7V1132.5H814ZM819.2 923H824.1V1029.8H819.2ZM809.2 890.2H810.6V1132.5H809.2ZM808 1004.1H809.5V1132.5H808ZM807 1051H808.3V1132.5H807ZM806.1 1062.9H807.3V1132.5H806.1ZM805.1 1094.9H806.4V1132.5H805.1ZM834.4 858.5H844V873.9H834.4ZM835.6 873.9H844V1020.5H835.6ZM837.1 1020.5H844.5V1132.5H837.1ZM851.2 944.1H854.9V1132.5H851.2ZM854.6 978.8H856.2V1132.5H854.6ZM856 990H866.1V1045H856ZM851.2 1007.8H861.6V1132.5H851.2ZM858.2 858.5H872V947.5H858.2ZM858.2 947.5H870.8V979.5H858.2ZM858.2 979.5H866.1V1045H858.2ZM866.8 979.5H870.8V1042.3H866.8ZM898.1 858.5H907V899.2H898.1ZM898.8 899.2L908 899.2L908 1132.5L900.3 1132.5ZM914.1 1059.1H917.9V1132.5H914.1ZM912.9 1077.8H918.2V1132.5H912.9ZM910.4 1097.1H922.2V1132.5H910.4ZM918.2 1092.6H921.9V1132.5H918.2ZM929.3 858.5H935.6V893.2H929.3ZM928.3 893.2H937.8V969.1H928.3ZM928.3 969.1H932.7V1132.5H928.3ZM934.5 969.1H938.2V1022.7H934.5ZM935.3 1022.7L939 1022.7L942 1132.5L938.2 1132.5ZM943.2 976.6H947.2V1132.5H943.2ZM946.9 992.9H948.4V1132.5H946.9ZM949.1 867.2H953.3V1132.5H949.1ZM954.2 858.5H965V1132.5H954.2ZM964.7 873.9H968.8V1132.5H964.7ZM968.5 878.3L969 878.3L973.2 1095.6L968.5 1095.6ZM968.8 1095.6H974V1132.5H968.8ZM975.9 858.5H981.1V1132.5H975.9ZM974.4 1022.7H976.2V1132.5H974.4ZM981.1 1064.4H982.4V1132.5H981.1ZM989.1 858.5H994V911.1H989.1ZM988.1 911.1H992.6V1132.5H988.1ZM992.6 911.1H995.8V972.1H992.6ZM984.4 936.4H989.1V1132.5H984.4ZM983.2 1019H984.7V1132.5H983.2ZM994 948.3H997V1132.5H994ZM992.3 1089.7H994.3V1132.5H992.3ZM996.7 1089.7L997.8 1089.7L1003 1132.5L996.7 1132.5ZM1004.8 858.5H1010V894.7H1004.8ZM1003.7 894.7H1012.2V966.9H1003.7ZM1008.9 966.9H1016.4V1132.5H1008.9ZM1000.4 1034.6H1008.2V1080H1000.4ZM1002.2 1080H1008.9V1132.5H1002.2ZM1025.3 858.5H1031.5V920H1025.3ZM1024.6 915.5H1035.7V1132.5H1024.6ZM1020.1 1013.8H1024.9V1132.5H1020.1ZM1019 1053.9H1020.4V1132.5H1019ZM1016.1 1076.3H1019.3V1132.5H1016.1ZM1039.4 858.5H1048.1V1132.5H1039.4Z"/>
<path fill="#000" d="M798 936.4H798.7V941.6H798ZM817.3 923H818.1V981H817.3ZM816.5 981H818.3V1058.4H816.5ZM809.5 1059.1H810.4V1085.2H809.5ZM808.3 1085.2H810.1V1132.5H808.3ZM854 1079.2H854.9V1132.5H854ZM899.1 1086.7H900V1097.1H899.1ZM899.7 1096.4H903.9V1132.5H899.7ZM932.4 968.4H933.1V1132.5H932.4ZM938.1 1021.9H939V1031.6H938.1ZM935.3 1110.5H936.8V1132.5H935.3ZM969 1019.7H969.9V1021.9H969ZM992.2 917.8H992.9V972.1H992.2ZM996.9 948.3H997.7V972.8H996.9ZM1008 966.9H1008.9V1012.3H1008ZM1000.3 1060.6H1001.2V1064.4H1000.3ZM1003 1097.1H1003.9V1106H1003ZM1035.3 915.5H1036.1V1132.5H1035.3ZM1048.2 884.3H1049.4V906.6H1048.2Z"/>
</g>
<g>
<path fill="#000" d="M751.2 1131.5H763.1V1175.2H751.2ZM750.9 1175.2H752.4V1222.8H750.9ZM751.5 1212.4H761V1277.8H751.5ZM751.8 1274.9H760.7V1338.8H751.8ZM754.9 1338.8H760.7V1355.2H754.9ZM754.9 1355.2H760V1405.5H754.9ZM807.3 1131.5H811.3V1273.4H807.3ZM804.3 1236.2H808.3V1335.9H804.3ZM811 1161.8H816.2V1286H811ZM794.9 1214.6H796.4V1280.8H794.9ZM795.8 1301.6H799.4V1405.5H795.8ZM798.8 1369.4H807.3V1405.5H798.8ZM803.6 1289.7H808V1370.1H803.6ZM815.9 1131.5H818.2V1159.5H815.9ZM837.1 1157.3H841.1V1293.9H837.1ZM853.9 1131.5H866.1V1315.8H853.9ZM854.2 1315.8H859.8V1405.5H854.2ZM860.9 1315.8H864.9V1405.5H860.9ZM859.8 1315.8H861V1349.3H859.8ZM900 1131.5H904.3V1145.7H900ZM935.3 1131.5L938.7 1131.5L942 1221.3L938.2 1221.3ZM938.2 1221.3L942 1221.3L943 1337.4L939.3 1337.4ZM941.2 1306.1H946.4V1405.5H941.2ZM946.1 1136.5H950.1V1206.4H946.1ZM957.1 1161.8H966.8V1227.2H957.1ZM957.1 1227.2H962.8V1405.5H957.1ZM967 1131.5H971V1176.6H967ZM984.4 1154.3H986.6V1227.2H984.4ZM982.6 1227.2H984.8V1326.9H982.6ZM978.1 1281.6H984.4V1376H978.1ZM979.2 1376H982.9V1391.7H979.2ZM987.4 1319.8H991.8V1393.2H987.4ZM987.4 1392.4H990.3V1405.5H987.4ZM995.2 1131.5H1003V1146.9H995.2ZM996 1169.2H1000V1189.3H996ZM1018.6 1193.8H1022.3V1382H1018.6ZM1009.4 1373.1H1021.1V1396.1H1009.4ZM1009.4 1395.4H1019.3V1405.5H1009.4Z"/>
<path fill="#f00" d="M751.2 1131.5H763.1V1140.9H751.2ZM751.5 1140.9H761.9V1175.2H751.5ZM751.8 1175.2H760.7V1213.1H751.8ZM752.2 1213.1H760.1V1275.6H752.2ZM754.9 1274.9H759.2V1324H754.9ZM794.9 1131.5H799.1V1215.3H794.9ZM795.4 1210.9H807.3V1263H795.4ZM795.8 1263H800.3V1301.6H795.8ZM804.3 1131.5H808V1236.2H804.3ZM803.3 1190H804.8V1210.9H803.3ZM811 1131.5H816.2V1201.9H811ZM811.8 1201.9H815.5V1208.2H811.8ZM837.1 1131.5H844.9V1171.4H837.1ZM840.8 1171.4H845.2V1321H840.8ZM850 1131.5H854.2V1322.5H850ZM841.1 1321H854.2V1405.5H841.1ZM855.2 1131.5H860.1V1150.6H855.2ZM904.3 1131.5H908.3V1405.5H904.3ZM909.2 1131.5H922.2V1219.1H909.2ZM908.9 1219.1H922.9V1375.3H908.9ZM908 1131.5H909.5V1155.8H908ZM908 1292H909.5V1405.5H908ZM904.8 1375.3H923.8V1405.5H904.8ZM928.1 1131.5H932.3V1405.5H928.1ZM938.2 1131.5H942.3V1148.4H938.2ZM943 1131.5H946.7V1148.4H943ZM938.7 1148.4H946.4V1215.3H938.7ZM941.2 1215.3H946.4V1306.4H941.2ZM950.1 1131.5H957.1V1405.5H950.1ZM958 1131.5H966.8V1161.8H958ZM971 1131.5H985.1V1199H971ZM971.7 1199H984.4V1228.7H971.7ZM972.5 1228.7H982.9V1242.9H972.5ZM972.5 1242.9H978.4V1405.5H972.5ZM979.2 1242.9H982.9V1281.6H979.2ZM987.4 1131.5H991.8V1319.8H987.4ZM995.2 1131.5H1000.7V1169.2H995.2ZM1009.2 1131.5H1035.3V1194.5H1009.2ZM1009.2 1194.5H1019.3V1306.1H1009.2ZM1009.7 1306.1H1018.6V1373.1H1009.7ZM1022 1194.5H1035.3V1304.6H1022ZM1022 1304.6H1034.5V1364.1H1022ZM1022 1364.1H1033.9V1405.5H1022ZM1040.2 1131.5H1046.4V1405.5H1040.2Z"/>
<path fill="#000" d="M904.2 1200.5H904.8V1405.5H904.2ZM912.1 1393.2H920.3V1405.5H912.1ZM932.2 1131.5H933V1264.4H932.2ZM946.4 1206.4H947.1V1286.8H946.4ZM950.2 1286H951V1382H950.2ZM970.6 1176.6H971.4V1209.4H970.6ZM978.1 1242.9H978.8V1280.8H978.1ZM971.4 1300.9H972.3V1341.8H971.4ZM991.2 1235.4H991.8V1319.5H991.2ZM1009.3 1265.9H1010V1373.1H1009.3ZM1027.2 1338.1H1027.9V1405.5H1027.2ZM1035 1131.5H1035.6V1303.9H1035ZM1033.9 1365.6H1034.5V1405.5H1033.9ZM1046.9 1131.5H1047.8V1213.8H1046.9ZM1040.2 1266.7H1040.8V1376H1040.2Z"/>
</g>
<g>
<path fill="#000" d="M755.2 1404.5H760V1433.3H755.2ZM755.2 1433.3H758.9V1451.1H755.2ZM796.1 1404.5H807V1419.1H796.1ZM796.1 1419.1H805.8V1431H796.1ZM796.1 1431H799.9V1440.7H796.1ZM801.3 1431H805.8V1449.6H801.3ZM841.1 1404.5H853.9V1461.5H841.1ZM841.1 1461.5H853V1537.4H841.1ZM842.3 1537.4H853V1629.7H842.3ZM843 1629.7H847V1641.9H843ZM848.2 1629.7H852.1V1644.9H848.2ZM855.7 1404.5H860.1V1428.8H855.7ZM860.9 1404.5H864.9V1501.4H860.9ZM904 1404.5H907.7V1602.9H904ZM911.5 1404.5H921.4V1589.5H911.5ZM907.4 1506.2H924.1V1589.5H907.4ZM905.5 1589.5H912.2V1620H905.5ZM906.2 1620H911V1628.2H906.2ZM911.5 1589.5H915.9V1594.7H911.5ZM921.1 1562.7H924.9V1619.3H921.1ZM924.9 1461.5H931.8V1653.5H924.9ZM926 1652H930.8V1666.2H926ZM942 1404.5H946.1V1447.4H942ZM951.2 1404.5H957.6V1536.7H951.2ZM957.6 1404.5H963.1V1561.2H957.6ZM958 1561.2H962.1V1566.5H958ZM972.5 1409.5H978V1652H972.5ZM973.2 1652H976.9V1661.2H973.2ZM986.9 1404.5H991.1V1447H986.9ZM1008.9 1404.5H1019V1477.9H1008.9ZM1009.7 1477.9H1018.6V1507.7H1009.7ZM1010.1 1507.7H1017.9V1544.1H1010.1ZM1010.1 1544.1H1014.1V1601.4H1010.1ZM1022 1449.6H1028.3V1640.1H1022ZM1024.3 1640.1H1027.7V1653.5H1024.3ZM1028.3 1500.2H1035V1634.9H1028.3ZM1029.2 1628.2H1033.9V1666.2H1029.2ZM1041.1 1497.3H1046.4V1625.2H1041.1ZM1042 1625.2H1045.8V1630.9H1042Z"/>
<path fill="#f00" d="M842.3 1404.5H853.4V1461.5H842.3ZM842.6 1461.5H853V1521.1H842.6ZM843 1521.1H852.2V1611.8H843ZM843.3 1611.8H847V1621.5H843.3ZM907 1404.5H912.2V1509.2H907ZM907.7 1509.2H911.5V1517.4H907.7ZM921.1 1404.5H925.1V1507.7H921.1ZM928.1 1404.5H931.8V1462.3H928.1ZM922.6 1509.2L931.2 1509.2L930.8 1605.9L924.9 1605.9ZM925.6 1605.9H930.5V1653.2H925.6ZM921.4 1455.6L925.1 1455.6L927.8 1510.7L924.1 1510.7ZM951.6 1404.5H957.1V1536H951.6ZM952.4 1536H956.8V1625.2H952.4ZM952.1 1625.2H955.8V1635.4H952.1ZM972.9 1404.5H977.4V1440.7H972.9ZM1022.3 1404.5H1027.1V1449.6H1022.3ZM1023.1 1449.6H1026.8V1531.5H1023.1ZM1028 1404.5H1034.5V1500.2H1028ZM1029 1500.2H1033.9V1628.2H1029ZM1041.4 1404.5H1046.1V1497.3H1041.4ZM1042.4 1497.3H1045.8V1625.2H1042.4Z"/>
<path fill="#000" d="M956.2 1551.6H956.9V1625.2H956.2Z"/>
</g>
<g>
<path fill="#f00" d="M1301.2 556H1304.8V586.5H1301.2ZM1304.5 568.2H1306V586.5H1304.5ZM1300 583.8H1301.5V586.5H1300Z"/>
</g>
<g>
<path fill="#000" d="M1183.2 810.4H1186.9V859.5H1183.2ZM1302.5 657.1H1305.4V757.1H1302.5ZM1302.2 684.2H1303.7V757.1H1302.2ZM1304.8 715.5H1307.1V794.3H1304.8ZM1306.7 737.8H1309.7V796.1H1306.7Z"/>
<path fill="#f00" d="M1050 728.6H1053.7V772H1050ZM1050 772H1054.8V806.2H1050ZM1052.2 783.9H1055.7V821.1H1052.2ZM1271.1 636.3H1274.7V859.5H1271.1ZM1274.4 723.2H1275.9V859.5H1274.4ZM1300.4 585.5H1306V621.7H1300.4ZM1303 599.4H1307V629.9H1303ZM1299.3 635.9H1303V685.7H1299.3ZM1298.2 684.2H1302.2V782.4H1298.2ZM1297.3 782.4H1301.5V859.5H1297.3ZM1308.2 597.2H1312.2V667.1H1308.2ZM1306 612.8H1309.7V658.9H1306ZM1309.2 667.1L1312.6 667.1L1313.7 776.5L1310.7 776.5ZM1310.7 776.5L1313.7 776.5L1314.9 859.5L1311.9 859.5Z"/>
<path fill="none" stroke="#f00" stroke-width="4.5" stroke-linejoin="round" d="M1053 794.3L1056 785.4L1058.9 786.1L1060.1 810.7L1062.6 788.4L1064.9 795.8L1067.6 801.8L1068.2 822.6L1070.1 798.8L1072.3 801L1073.8 815.9L1075.3 831.5L1077.5 848.6L1080.5 839L1082 814.4L1084.2 801.8L1086.9 800.3L1088.7 789.9L1090.5 792.8L1090.2 815.2L1092.7 804.8L1093.2 824.1L1094.2 841.2L1096.1 827.8L1097.3 847.9L1098.4 859.8"/>
<path fill="#000" d="M1308.3 721.4H1309V749.7H1308.3ZM1301.4 782.4H1302.5V842.7H1301.4ZM1309.4 830H1310.6V859.5H1309.4Z"/>
</g>
<g>
<path fill="#000" d="M1050 885.8H1056V912.6H1050ZM1183.2 858.5H1186.9V1132.5H1183.2ZM1254.8 987H1259.1V1001.1H1254.8ZM1246.1 1027.2H1249.7V1041.3H1246.1ZM1236.9 1054.7H1242V1059.9H1236.9ZM1239.7 1104.5H1243.5V1112H1239.7ZM1278 995.2H1281V1020.5H1278ZM1309.4 858.5H1311.9V908.9H1309.4Z"/>
<path fill="none" stroke="#000" stroke-width="5" stroke-linejoin="round" d="M1050 899.2L1054.5 896.2L1057.4 914.1L1060.4 905.1L1064.1 908.9L1067.9 903.6L1070.8 913.3L1073.8 903.6L1077.5 900.7L1082.7 908.9L1087.2 904.4L1090.9 910.3L1093.9 902.2L1097.6 898.4L1100.6 891.7L1104.3 896.9L1112.5 895.5L1121.4 896.9L1128.1 894.7M1132.6 909.6L1133.3 939.4L1135.6 930.4L1138.5 910.3L1142.3 916.3L1147.5 920.8L1152.7 926.7L1154.9 940.1L1157.9 928.9L1159.8 914.8L1162.4 930.4L1164.6 920.8L1166.1 939.4L1169 934.1L1171.3 949.8L1174.3 942.3L1176.5 929.7L1181 928.2L1183.2 936.4"/>
<path fill="#f00" d="M1113.2 888.8H1117.7V921.5H1113.2ZM1117.7 881.3H1121.7V901.4H1117.7ZM1128.1 891H1131.8V936.4H1128.1ZM1129.6 933.4H1133.3V963.2H1129.6ZM1131.5 946.8H1135.6V968.8H1131.5ZM1135.6 918.5H1145.2V955.7H1135.6ZM1139.3 914.8H1146V955.7H1139.3ZM1145.2 928.9H1154.2V960.2H1145.2ZM1149 942.3H1154.2V972.4H1149ZM1154.2 936.4H1163.1V971.4H1154.2ZM1157.1 917H1161.9V948.3H1157.1ZM1163.1 931.9H1167.6V1013.8H1163.1ZM1168.3 952.8H1173.5V1007.8H1168.3ZM1170.2 1007.8H1173.8V1026.9H1170.2ZM1173.5 945.3H1178V972.1H1173.5ZM1178 943.1H1183.2V988.5H1178ZM1179.5 987H1183.5V1085.2H1179.5ZM1181 1082.2H1184.7V1132.5H1181ZM1251.2 912.6H1255.1V1132.5H1251.2ZM1250.1 1001.1H1259.8V1132.5H1250.1ZM1245.2 1040.8H1250.4V1132.5H1245.2ZM1237.2 1059.1H1241.7V1132.5H1237.2ZM1241.4 1091.1H1245.5V1132.5H1241.4ZM1234.5 1110.5H1237.5V1132.5H1234.5ZM1259.5 1019.7H1261V1077.8H1259.5ZM1259.5 1085.2H1260.7V1132.5H1259.5ZM1271.4 858.5H1275.9V887.3H1271.4ZM1270.2 887.3H1276.5V945.3H1270.2ZM1270.7 945.3H1277.7V1021.2H1270.7ZM1269 1021.2H1273.2V1132.5H1269ZM1274.4 1020.5H1280.7V1055.4H1274.4ZM1276.9 1052.5H1281V1132.5H1276.9ZM1297.3 858.5H1301.2V991.4H1297.3ZM1296.3 991.4H1300.3V1132.5H1296.3ZM1295.5 1061.4H1297V1132.5H1295.5ZM1311.5 858.5L1314.9 858.5L1315.9 1003.3L1312.2 1003.3ZM1312.2 1003.3L1315.9 1003.3L1317.6 1132.5L1313.7 1132.5Z"/>
<path fill="none" stroke="#f00" stroke-width="4.5" stroke-linejoin="round" d="M1096.9 859L1098.4 876.9L1102.1 873.9L1102.8 885.8L1105.8 896.2L1106.5 876.9L1108.8 869.4L1109.5 881.3L1114 876.9L1115.5 885.8L1118.5 876.1L1122.9 882.8L1127.4 887.3L1130.4 888.8"/>
<path fill="#000" d="M1255 975.1H1255.7V987H1255ZM1250.1 1010H1251V1019.7H1250.1ZM1259.1 1000.4H1260V1019.7H1259.1ZM1260 1077.8H1260.9V1085.9H1260ZM1242 1068.8H1242.9V1073.3H1242ZM1242.7 1112H1243.6V1123.9H1242.7ZM1252 1123.9H1252.8V1132.5H1252ZM1276.3 913.3H1277V931.9H1276.3ZM1277 945.3H1277.8V969.1H1277ZM1273.1 1036.8H1274V1115H1273.1ZM1301.1 858.5H1301.9V903.6H1301.1ZM1300.2 991.4H1301V1085.9H1300.2ZM1315.3 907.4H1315.9V934.1H1315.3ZM1313.3 1101.6H1314.1V1122.4H1313.3Z"/>
</g>
<g>
<path fill="#000" d="M1188.8 1297.2H1190.9V1399.9H1188.8ZM1191.1 1370.1H1198.8V1405.5H1191.1ZM1198.8 1344.8H1201.3V1385H1198.8ZM1201 1318H1206.2V1373.1H1201ZM1203.3 1370.1H1207.7V1397.6H1203.3ZM1207 1373.1H1212.5V1405.5H1207ZM1210 1325.5H1213.7V1367.1H1210ZM1212.9 1273.4H1217.7V1355.2H1212.9ZM1215.5 1319.5H1225.6V1356.7H1215.5ZM1218.2 1355.2H1225.9V1393.9H1218.2ZM1221.1 1393.9H1225.6V1405.5H1221.1ZM1225.6 1267.4H1231.1V1311.3H1225.6ZM1225.6 1310.6H1227.4V1326.9H1225.6ZM1230.8 1286.8H1236V1354.5H1230.8ZM1234.5 1255.5H1237.1V1321.7H1234.5ZM1236.5 1131.5H1240V1167H1236.5ZM1244.2 1154.3H1248.2V1177.4H1244.2ZM1248.7 1131.5H1257.1V1154.3H1248.7ZM1313.1 1131.5L1316.4 1131.5L1317.4 1227.2L1314.1 1227.2ZM1314.1 1227.2L1317.4 1227.2L1319 1294.2L1315.6 1294.2ZM1315.6 1294.2L1319 1294.2L1320.1 1346.3L1317.1 1346.3ZM1316.8 1346.3H1320.1V1405.5H1316.8Z"/>
<path fill="#f00" d="M1181.2 1131.5H1185.4V1297.2H1181.2ZM1182.1 1295.7H1189.1V1405.5H1182.1ZM1190.2 1166.5H1194V1215.3H1190.2ZM1186.2 1212.4H1197.3V1295.7H1186.2ZM1193.6 1205.7H1197.3V1215.3H1193.6ZM1197 1261.5H1199.6V1304.6H1197ZM1189.9 1295.7H1199.3V1343.3H1189.9ZM1191.4 1343.3H1198.8V1376H1191.4ZM1193.6 1376H1198.5V1393.2H1193.6ZM1201.5 1243.6H1206V1318H1201.5ZM1199.6 1277.8H1201.8V1298.7H1199.6ZM1203.3 1291.2H1208.5V1318H1203.3ZM1207 1292.7H1211.5V1326.2H1207ZM1213.2 1218.3H1217V1265.9H1213.2ZM1210.4 1236.2H1213.7V1283.8H1210.4ZM1215.2 1240.6H1220.4V1285.3H1215.2ZM1217.4 1283.8H1225.6V1322.5H1217.4ZM1220.1 1227.2H1225.9V1283.8H1220.1ZM1221.1 1322.5H1225.3V1352.2H1221.1ZM1223.4 1210.1H1228.6V1248.1H1223.4ZM1228.3 1215.3H1236.3V1248.1H1228.3ZM1230.8 1248.1H1235.3V1287.5H1230.8ZM1233 1149.9H1236.8V1255.5H1233ZM1234.1 1131.5H1239.3V1149.9H1234.1ZM1244.2 1131.5H1248.7V1154.3H1244.2ZM1248.4 1131.5H1261V1138.7H1248.4ZM1256.8 1138L1261 1138L1262.1 1196L1258 1196ZM1258 1196L1262.1 1196L1263.1 1322.5L1259.1 1322.5ZM1259.1 1322.5L1263.1 1322.5L1264.3 1405.5L1260.1 1405.5ZM1269 1131.5H1272.9V1405.5H1269ZM1268 1363.4H1269.5V1405.5H1268ZM1278.4 1131.5L1281 1131.5L1282.1 1157.3L1279.2 1157.3ZM1278.7 1157.3H1282.1V1361.2H1278.7ZM1279.2 1360.4H1282.9V1405.5H1279.2ZM1296.3 1131.5H1300V1405.5H1296.3ZM1313.7 1131.5L1317.9 1131.5L1320.1 1194.5L1316.4 1194.5ZM1316.4 1194.5L1320.1 1194.5L1321.1 1258.5L1317.4 1258.5ZM1317.4 1258.5L1321.1 1258.5L1322.3 1303.1L1318.6 1303.1ZM1318.6 1303.1L1322.3 1303.1L1323.8 1329.9L1320.1 1329.9ZM1320.1 1329.9L1323.8 1329.9L1326 1364.1L1322.3 1364.1ZM1322.3 1364.1L1326 1364.1L1328 1405.5L1324.6 1405.5ZM1335 1395.4H1339V1405.5H1335ZM1342.1 1390.9H1346.9V1405.5H1342.1ZM1348.8 1314.3H1350V1405.5H1348.8ZM1347.6 1385H1350V1405.5H1347.6Z"/>
<path fill="#000" d="M1185.3 1131.5H1186.2V1297.2H1185.3ZM1181.2 1233.9H1181.9V1263H1181.2ZM1257.2 1154.3H1258V1197.5H1257.2ZM1258.3 1265.2H1259V1356.7H1258.3ZM1258.6 1356.7H1259.8V1405.5H1258.6ZM1272.1 1279.3H1272.8V1405.5H1272.1ZM1278.4 1300.2H1279V1405.5H1278.4Z"/>
</g>
<g>
<path fill="#000" d="M1182.1 1404.5H1189.1V1489.1H1182.1ZM1183.9 1488.3H1189.1V1524H1183.9ZM1184.7 1524H1188.4V1528.2H1184.7ZM1191.4 1404.5H1198.8V1442.2H1191.4ZM1192.9 1442.2H1199.1V1451.9H1192.9ZM1194 1451.9H1198.1V1461.5H1194ZM1207 1404.5H1211.5V1411.2H1207ZM1221.1 1404.5H1224.9V1427.6H1221.1ZM1348.4 1509.2H1350V1582.1H1348.4Z"/>
<path fill="none" stroke="#000" stroke-width="4.5" stroke-linejoin="round" d="M1260.1 1405L1260.1 1580.6L1261.6 1628.2L1262.5 1665.4L1269 1665.4L1269.9 1628.2L1271.4 1577.6L1272 1405M1279.5 1405L1279.9 1553.8L1280.7 1613.3L1282.1 1652L1282.4 1665.4L1297 1665.4L1297.3 1643.1L1298.8 1597L1299.4 1515.1M1318.6 1405L1319 1461.5L1320.5 1506.2L1321.6 1547.9L1323.1 1568.7L1326 1583.6L1328.3 1598.5L1331 1614.1L1332.4 1598.5L1333.2 1577.6L1335 1567.2L1337.2 1553.1L1338.7 1568.7L1339.9 1576.1L1342.4 1582.1L1344.6 1566.5L1347.3 1571.7L1349.1 1580.6"/>
<path fill="#f00" d="M1182.4 1404.5H1188.7V1442.2H1182.4ZM1182.4 1442.2L1188.7 1442.2L1187.2 1489.5L1183.6 1489.5ZM1324.3 1404.5L1328.3 1404.5L1330.5 1454.1L1326.5 1454.1ZM1326.5 1454.1L1330.5 1454.1L1333 1482.4L1328.6 1482.4ZM1328.6 1480.9H1333.5V1521.1H1328.6ZM1329 1521.1L1333.2 1521.1L1332.3 1537.1L1329.8 1537.1ZM1331.7 1437H1336.5V1470.5H1331.7ZM1333.9 1404.5H1339.4V1449.6H1333.9ZM1338.7 1404.5H1343.9V1431.5H1338.7ZM1343.9 1404.5H1350V1412.4H1343.9Z"/>
<path fill="none" stroke="#f00" stroke-width="4.5" stroke-linejoin="round" d="M1261.6 1405L1262.1 1553.8L1263.1 1602.9L1264.3 1637.1L1266.1 1628.2L1268.5 1625.2L1269.5 1602.9L1270.2 1553.8L1269.9 1405M1280.4 1405L1281.4 1449.6L1282.4 1494.3L1282.9 1625.2L1285.1 1632.7L1286.9 1637.1L1288.8 1643.8L1291.1 1638.6L1296.3 1639.4L1296.3 1589.5L1297.9 1513.6L1298.2 1405"/>
</g>
<g>
<path fill="#f00" d="M1456.2 494.5H1460.1V586.5H1456.2ZM1454.8 546.2H1456.8V586.5H1454.8ZM1545.2 573H1548.8V586.5H1545.2ZM1720.8 564.9H1724.4V586.5H1720.8ZM1752.1 544.1H1756V586.5H1752.1ZM1758.9 558.1H1762.8V586.5H1758.9ZM1757.7 573H1759.5V586.5H1757.7ZM1764.3 494.5H1768.8V586.5H1764.3ZM1772.3 548H1775.9V586.5H1772.3ZM1786.6 494.5H1790.8V586.5H1786.6ZM1784.8 550.1H1787.2V586.5H1784.8ZM1797.9 494.5H1804.8V586.5H1797.9ZM1856 494.5H1860.1V586.5H1856Z"/>
<path fill="#000" d="M1854.9 494.5H1855.8V510.5H1854.9Z"/>
</g>
<g>
<path fill="#f00" d="M1455.2 585.5H1459.8V859.5H1455.2ZM1459.5 729.2H1464V859.5H1459.5ZM1485.1 753H1489V859.5H1485.1ZM1488.7 824.8H1489.9V859.5H1488.7ZM1524.1 803H1527.8V859.5H1524.1ZM1545.2 585.5H1549V859.5H1545.2ZM1548.7 699.1H1549.9V859.5H1548.7ZM1544.2 818.1H1545.5V859.5H1544.2ZM1631.2 673.1H1635V859.5H1631.2ZM1634.7 695.1H1636V859.5H1634.7ZM1630.2 721.7H1631.5V859.5H1630.2ZM1635.7 744.9H1636.9V859.5H1635.7Z"/>
</g>
<g>
<path fill="#000" d="M1455.7 953.5H1458.2V991.4H1455.7ZM1459.1 1085.9H1463.1V1110.5H1459.1Z"/>
<path fill="#f00" d="M1381.2 991.9H1385V1132.5H1381.2ZM1380.2 1028.9H1381.5V1132.5H1380.2ZM1421.1 968.4H1424.9V1132.5H1421.1ZM1419.9 978.8H1421.4V1132.5H1419.9ZM1455.2 858.5H1463.8V952.8H1455.2ZM1453.1 876.9H1455.5V1132.5H1453.1ZM1452.1 998.1H1453.4V1132.5H1452.1ZM1457.9 952.8H1464.6V1031.6H1457.9ZM1458.3 1031.6H1465.8V1085.2H1458.3ZM1461.6 1085.2H1466.4V1132.5H1461.6ZM1465.8 1103.8H1469.9V1132.5H1465.8ZM1485.1 858.5H1489.9V1132.5H1485.1ZM1484.1 1007.8H1485.4V1132.5H1484.1ZM1489.6 1071.1H1490.8V1132.5H1489.6ZM1524.1 858.5H1527.8V1132.5H1524.1ZM1523.1 874.6H1524.4V1132.5H1523.1ZM1527.5 1043.1H1531.8V1132.5H1527.5ZM1531.5 1099H1532.9V1132.5H1531.5ZM1544.2 858.5H1550.1V1007.8H1544.2ZM1549.9 861.2H1551.2V1007.8H1549.9ZM1544.2 1007.8H1547.2V1132.5H1544.2ZM1543 1065.1H1544.5V1132.5H1543ZM1548.4 1007.8H1551.6V1132.5H1548.4ZM1551.3 1097.1H1552.8V1132.5H1551.3ZM1572.2 870.2H1575.9V1132.5H1572.2ZM1575.6 963.9H1576.9V1132.5H1575.6ZM1571 1056.9H1572.5V1132.5H1571ZM1576.6 1068.8H1578V1132.5H1576.6ZM1577.7 1112H1578.9V1132.5H1577.7ZM1595.1 914.1H1599V1132.5H1595.1ZM1598.7 936.8H1600V1132.5H1598.7ZM1594 969.9H1595.5V1132.5H1594ZM1599.7 1062.1H1601V1132.5H1599.7ZM1606.2 1036.1H1610.1V1132.5H1606.2ZM1605.2 1098.9H1606.5V1132.5H1605.2ZM1613.1 890H1616.8V1132.5H1613.1ZM1616.5 988H1617.9V1132.5H1616.5ZM1612.1 1098.9H1613.4V1132.5H1612.1ZM1630.2 858.5H1636.9V921.5H1630.2ZM1630.2 921.5H1633.2V992.9H1630.2ZM1634.2 921.5H1636.9V992.9H1634.2ZM1629.2 959H1630.5V1132.5H1629.2ZM1630.2 992.9H1633.5V1132.5H1630.2ZM1634.5 992.9H1637.9V1132.5H1634.5ZM1647.3 1077.8H1650V1132.5H1647.3ZM1648.8 1073.3H1650V1132.5H1648.8Z"/>
<path fill="#000" d="M1463.9 916.3H1464.7V934.9H1463.9ZM1458.1 1066.1H1458.9V1081.8H1458.1ZM1461.9 1110.5H1462.8V1126.9H1461.9ZM1550.9 942.3H1551.8V955H1550.9ZM1547.2 1006.3H1547.8V1061.4H1547.2ZM1547.2 1061.4H1548.7V1080H1547.2ZM1547.2 1080H1547.8V1120.9H1547.2ZM1633.1 921.2H1633.9V992.9H1633.1ZM1637.1 1028.9H1637.9V1034.9H1637.1ZM1632 1080.3H1632.6V1132.5H1632Z"/>
</g>
<g>
<path fill="#000" d="M1463.1 1212.4H1467.1V1333.6H1463.1ZM1464.3 1331.4H1469V1398.4H1464.3ZM1476.2 1183.3H1480.2V1405.5H1476.2ZM1487.8 1196H1490.2V1352.2H1487.8ZM1488.4 1332.9H1492.9V1352.2H1488.4ZM1490.3 1350.8H1494V1405.5H1490.3ZM1505.2 1354.5H1508.9V1405.5H1505.2ZM1501 1370.8H1505.5V1405.5H1501ZM1514.4 1388H1519.6V1405.5H1514.4ZM1521.9 1286H1526.3V1405.5H1521.9ZM1525.9 1139.4H1530.1V1219.1H1525.9ZM1529.3 1234.7H1532.3V1267.4H1529.3ZM1530.4 1267.4H1534.2V1377.5H1530.4ZM1531.2 1390.9H1539V1405.5H1531.2ZM1534.5 1379H1537.8V1391.7H1534.5ZM1549.1 1169.2H1550.9V1278.6H1549.1ZM1550.1 1277.8H1552.7V1344.8H1550.1ZM1550.9 1343.3H1553.4V1396.9H1550.9ZM1574.4 1159.5H1578V1276.3H1574.4ZM1574.4 1274.9H1580.4V1390.9H1574.4ZM1596.7 1187.1H1601V1338.8H1596.7ZM1597.8 1338.8H1601.5V1385H1597.8ZM1606.7 1350H1611.5V1405.5H1606.7ZM1611.6 1343.3H1616.7V1405.5H1611.6ZM1616.1 1388H1619.3V1405.5H1616.1ZM1635.7 1285.3H1641.7V1392.4H1635.7Z"/>
<path fill="#f00" d="M1350 1312.8H1353.7V1347.8H1350ZM1351.2 1346.3H1356.7V1359.7H1351.2ZM1353.7 1358.2H1358.2V1391.7H1353.7ZM1355.2 1390.9H1359.7V1405.5H1355.2ZM1380.2 1131.5H1385V1405.5H1380.2ZM1384.7 1231.7H1386.2V1405.5H1384.7ZM1385.9 1272.6H1387.2V1405.5H1385.9ZM1379.2 1302.4H1380.5V1405.5H1379.2ZM1386.9 1307.6H1388.2V1405.5H1386.9ZM1387.9 1345.5H1389.1V1405.5H1387.9ZM1420.4 1131.5H1424.9V1405.5H1420.4ZM1419.2 1262.2H1420.7V1405.5H1419.2ZM1424.6 1268.2H1426.2V1364.1H1424.6ZM1425.9 1324H1428.9V1393.9H1425.9ZM1428.6 1353.7H1431.1V1394.6H1428.6ZM1430.4 1332.1H1435.1V1394.6H1430.4ZM1434.8 1347H1436.3V1405.5H1434.8ZM1443.5 1365.3H1447V1405.5H1443.5ZM1442.3 1401.3H1450V1405.5H1442.3ZM1452.4 1131.5H1456V1405.5H1452.4ZM1451.2 1332.9H1452.7V1405.5H1451.2ZM1463.4 1131.5H1469.8V1258.5H1463.4ZM1466.8 1258.5H1470.8V1353.7H1466.8ZM1467.6 1353.7H1472V1390.9H1467.6ZM1468.3 1390.9H1473.2V1405.5H1468.3ZM1484.4 1131.5H1490.6V1173.7H1484.4ZM1484.7 1172.2H1492.1V1201.9H1484.7ZM1486.9 1196H1493.9V1273.4H1486.9ZM1490.2 1267.4H1498.1V1331.4H1490.2ZM1494.6 1318H1501.8V1345.5H1494.6ZM1501 1182.6H1505.5V1251H1501ZM1504.8 1187.4H1508.9V1251H1504.8ZM1500.3 1230.2H1510V1251H1500.3ZM1500 1251H1504V1297.2H1500ZM1498.8 1295.7H1503V1340.3H1498.8ZM1505.8 1251H1510.7V1310.6H1505.8ZM1507 1288.2H1512.2V1334.4H1507ZM1508 1310.6H1515.5V1364.1H1508ZM1510.4 1364.1H1514.9V1382H1510.4ZM1514.1 1201.2H1518.9V1236.2H1514.1ZM1513.4 1234.7H1520.7V1276.3H1513.4ZM1518.9 1216.8H1520.8V1236.2H1518.9ZM1516.7 1276.3H1525.6V1331.4H1516.7ZM1518.2 1331.4H1522.6V1346.3H1518.2ZM1523.1 1131.5H1533V1140.2H1523.1ZM1522.2 1140.2H1526.3V1280.8H1522.2ZM1529.3 1158.8H1534.1V1271.1H1529.3ZM1521.1 1150.6H1522.6V1278.6H1521.1ZM1534.5 1205.7H1539V1248.1H1534.5ZM1535.3 1246.6H1539.7V1343.3H1535.3ZM1536.8 1340.3H1542V1405.5H1536.8ZM1540.9 1346.3H1546.4V1405.5H1540.9ZM1543.5 1131.5H1547.2V1206.4H1543.5ZM1542 1257.7H1546.4V1347H1542ZM1549.4 1131.5L1553.1 1131.5L1555.1 1221.3L1550.9 1221.3ZM1550.9 1221.3L1555.1 1221.3L1556.4 1325.5L1552.1 1325.5ZM1552.1 1325.5L1556.4 1325.5L1558 1405.5L1553.1 1405.5ZM1558.3 1316.5H1563.1V1370.1H1558.3ZM1557.6 1355.2H1565V1405.5H1557.6ZM1562.8 1326.2H1564.3V1370.1H1562.8ZM1565 1359.7H1569.5V1405.5H1565ZM1571.4 1131.5H1578.7V1159.5H1571.4ZM1571.4 1159.5H1575V1361.2H1571.4ZM1570.2 1359.7H1573.2V1405.5H1570.2ZM1577.7 1188.5H1580.2V1255.5H1577.7ZM1579.2 1254H1583.2V1280.1H1579.2ZM1580.4 1301.6H1584.4V1334.4H1580.4ZM1581.4 1332.9H1586.2V1361.2H1581.4ZM1582.1 1359.7H1587.4V1405.5H1582.1ZM1594 1131.5H1600.3V1179.6H1594ZM1595.2 1178.1H1602.2V1203.4H1595.2ZM1596.3 1201.9H1603V1289.7H1596.3ZM1600 1228.7H1604.5V1385H1600ZM1604.2 1131.5H1611.9V1347.8H1604.2ZM1611.6 1131.5H1619.3V1346.3H1611.6ZM1619 1278.6H1621.1V1385H1619ZM1593 1315.8H1595.5V1379.8H1593ZM1601.5 1385H1606.7V1405.5H1601.5ZM1619.3 1376H1623.8V1405.5H1619.3ZM1629 1131.5H1632.7V1191.5H1629ZM1628 1190.8H1632.7V1261.5H1628ZM1625 1260H1632.3V1370.1H1625ZM1623.8 1370.1H1626.8V1405.5H1623.8ZM1634.2 1131.5H1637.9V1209.4H1634.2ZM1639.4 1135H1644.3V1176.6H1639.4ZM1638.4 1152.8H1645.4V1228.7H1638.4ZM1634.5 1209.4H1641.7V1286H1634.5ZM1641.7 1274.9H1650V1405.5H1641.7ZM1645.4 1228.7H1650V1274.9H1645.4Z"/>
<path fill="#000" d="M1383.1 1295.7H1383.9V1335.9H1383.1ZM1383.6 1335.9H1384.8V1405.5H1383.6ZM1423.4 1362.4H1424.6V1405.5H1423.4ZM1455.4 1297.2H1456V1405.5H1455.4ZM1546.2 1206.4H1546.9V1346.3H1546.2ZM1632.1 1131.5H1632.8V1279.3H1632.1ZM1634.2 1209.4H1634.9V1277.8H1634.2Z"/>
</g>
<g>
<path fill="#000" d="M1350 1509.9H1353V1582.1H1350ZM1382.4 1404.5H1386.5V1457.1H1382.4ZM1422.2 1488.3H1424.7V1558.3H1422.2ZM1423.4 1533H1429.2V1573.2H1423.4ZM1430.4 1536H1435.6V1570.2H1430.4ZM1446.7 1570.2H1454.2V1583.6H1446.7ZM1447.5 1583.6H1452.7V1590.3H1447.5ZM1451.9 1467.5H1456.4V1570.2H1451.9ZM1454.2 1404.5H1456V1467.5H1454.2ZM1467.3 1404.5H1470.8V1491.3H1467.3ZM1468.3 1488.3L1472.3 1488.3L1474.7 1619.3L1470.2 1619.3ZM1470.2 1619.3L1474.7 1619.3L1476.8 1646.1L1472.3 1646.1ZM1472.8 1644.6H1477.7V1658H1472.8ZM1475.7 1404.5H1480.2V1568.7H1475.7ZM1477.2 1568.7H1481.7V1625.2H1477.2ZM1476.5 1623.8H1479.8V1646.8H1476.5ZM1482.1 1649H1486.9V1664.2H1482.1ZM1489.9 1404.5H1494.6V1467.5H1489.9ZM1491.1 1464.5H1498.8V1512.1H1491.1ZM1495.1 1509.2H1502.8V1538.9H1495.1ZM1497 1538.9H1501.8V1544.1H1497ZM1500 1437.7H1504.8V1512.1H1500ZM1501 1404.5H1510V1424.3H1501ZM1505.5 1424.3H1511.8V1521.1H1505.5ZM1508.5 1519.6H1516.2V1561.2H1508.5ZM1510.4 1561.2H1514.9V1571.4H1510.4ZM1512.9 1452.6H1518.2V1494.3H1512.9ZM1513.7 1404.5H1521.1V1454.1H1513.7ZM1517.4 1479.4H1525.9V1524H1517.4ZM1518.2 1524H1522.6V1532.2H1518.2ZM1521.1 1404.5H1526.6V1494.3H1521.1ZM1530.8 1404.5H1536V1432.1H1530.8ZM1535.3 1418.4H1540V1516.6H1535.3ZM1536.8 1515.1H1545.2V1580.6H1536.8ZM1539 1580.6H1543.5V1591H1539ZM1542.4 1472H1546.4V1537.4H1542.4ZM1550.9 1404.5H1555.7V1528.5H1550.9ZM1552.4 1528.5H1560.1V1576.1H1552.4ZM1554.6 1576.1H1559.1V1586.2H1554.6ZM1557.6 1521.8H1563.5V1553.8H1557.6ZM1561 1553.8H1569.5V1572.4H1561ZM1566.5 1568.7H1574V1598.5H1566.5ZM1568.8 1598.5H1573.2V1607.1H1568.8ZM1570.2 1497.3H1574.3V1589.5H1570.2ZM1576.9 1404.5H1582.4V1446.7H1576.9ZM1578.9 1434.8H1585.1V1521.1H1578.9ZM1581.8 1521.1H1588.1V1591H1581.8ZM1585.1 1591H1591.1V1631.2H1585.1ZM1588.1 1576.1H1597V1634.2H1588.1ZM1591.1 1634.2H1596.3V1647.6H1591.1ZM1594 1489.8H1597V1576.1H1594ZM1600 1404.5H1606.2V1536H1600ZM1601.5 1536H1607V1583.6H1601.5ZM1603 1583.6H1606.7V1592.5H1603ZM1606.2 1404.5H1616.7V1519.6H1606.2ZM1610.4 1519.6H1614.9V1525.8H1610.4ZM1615.6 1470.5H1621.9V1537.4H1615.6ZM1617.9 1537.4H1625.3V1565.7H1617.9ZM1620.8 1565.7H1625V1573.9H1620.8ZM1625 1464.5H1632V1570.2H1625ZM1626.8 1570.2H1631.2V1616.3H1626.8ZM1635 1404.5H1640.2V1438.5H1635ZM1641.7 1404.5H1650V1538.9H1641.7ZM1642.4 1538.9H1647.6V1578.4H1642.4Z"/>
<path fill="none" stroke="#000" stroke-width="4.5" stroke-linejoin="round" d="M1352.2 1547.9L1356 1553.8L1358.2 1582.1L1361.2 1586.5L1362.6 1613.3L1363.4 1637.1L1364.9 1655L1367.1 1644.6L1369.3 1649L1372.3 1658L1375.3 1664.7L1380.5 1664.7L1381.2 1622.3L1382 1506.2M1385 1457.1L1386.5 1561.2L1387.9 1591L1389.9 1637.1L1392.4 1655L1393.9 1637.1L1393.2 1619.3L1396.1 1628.2L1399.1 1646.1L1401.3 1658L1402.8 1664.7L1421.4 1664.7L1422.2 1643.1"/>
<path fill="none" stroke="#000" stroke-width="5" stroke-linejoin="round" d="M1434.1 1568.7L1436.3 1598.5L1439 1625.2L1441.1 1640.1L1443 1649L1444.5 1637.1L1444.2 1568.7L1445.5 1527"/>
<path fill="#f00" d="M1350 1404.5H1352.2V1413.2H1350ZM1433 1404.5L1437.1 1404.5L1439 1464.5L1434.8 1464.5ZM1434.8 1464.5L1439 1464.5L1441.1 1524L1437.1 1524ZM1437.5 1524H1444V1541.9H1437.5ZM1440 1541.9H1444V1546.7H1440ZM1441.5 1489.8H1445.2V1527H1441.5ZM1442.3 1404.5H1448.2V1490.6H1442.3ZM1446.4 1404.5H1454.9V1437H1446.4ZM1447.5 1437H1454.5V1467.5H1447.5ZM1449.4 1467.5H1454.2V1474.9H1449.4ZM1469 1404.5L1473.2 1404.5L1475 1516.6L1470.8 1516.6ZM1470.8 1516.6L1475 1516.6L1477.2 1583.6L1472.8 1583.6ZM1472.8 1583.6L1477.2 1583.6L1481 1619.3L1475 1619.3ZM1475.7 1613.3H1482.4V1623.8H1475.7ZM1480.7 1622.3L1486.2 1622.3L1486.6 1649.8L1482.7 1649.8ZM1483.2 1536H1487.2V1628.2H1483.2ZM1483.9 1404.5H1487.6V1538.9H1483.9ZM1539 1404.5H1544.2V1427.3H1539ZM1539.7 1427.3H1543.2V1433H1539.7ZM1555.1 1404.5H1559.8V1427.3H1555.1ZM1555.4 1427.3H1558.6V1433H1555.4ZM1566.5 1404.5H1574.7V1437.7H1566.5ZM1568 1437.7H1574.3V1473.5H1568ZM1569.2 1473.5H1573.2V1497.3H1569.2ZM1584.1 1404.5L1588.1 1404.5L1590.3 1457.1L1585.9 1457.1ZM1586.3 1455.6H1592.6V1476.4H1586.3ZM1586.6 1474.2H1597V1489.8H1586.6ZM1586.9 1489.8H1594.8V1524H1586.9ZM1589.9 1524H1595.8V1553.8H1589.9ZM1591.8 1553.8H1595.8V1564.5H1591.8ZM1593.3 1404.5H1597V1476.4H1593.3ZM1603 1404.5H1607.4V1438.9H1603ZM1620.1 1404.5H1625V1413.9H1620.1ZM1626.8 1404.5H1631.2V1479.9H1626.8ZM1642.9 1404.5H1647.2V1415.4H1642.9Z"/>
<path fill="none" stroke="#f00" stroke-width="4.5" stroke-linejoin="round" d="M1357.7 1405L1358.9 1419.9L1360.1 1434.8L1361.6 1467.5L1362.6 1531.5L1364.1 1576.1L1365.6 1602.9L1368.6 1617.8L1372.3 1620L1376 1619.3L1376.5 1637.1L1377.5 1646.1L1379.8 1625.2L1380.2 1547.9L1381.2 1405M1387.9 1405L1389 1449.6L1389.9 1485.4L1390.9 1538.9L1392 1568.7L1393.5 1595.5L1395.4 1613.3L1398.4 1620L1402.1 1619.3L1402.4 1637.1L1403 1649.8L1405.4 1641.6L1409.5 1641.6L1413.2 1639.4L1417 1641.6L1419.9 1643.1L1421.1 1553.8L1421.4 1405"/>
<path fill="#000" d="M1486.5 1467.5H1487.3V1596.2H1486.5Z"/>
</g>
<g>
<path fill="#000" d="M1856.3 455.4H1859.8V464.6H1856.3ZM1854.9 487.7H1856.8V495.5H1854.9Z"/>
<path fill="#f00" d="M1456.3 438.6H1459.8V495.5H1456.3ZM1765.3 215.3H1768.8V495.5H1765.3ZM1764.1 466.1H1766.1V495.5H1764.1ZM1786.4 156.6H1789.9V495.5H1786.4ZM1788.1 355H1790.9V495.5H1788.1ZM1799.3 110.7H1802.8V495.5H1799.3ZM1801.5 235.2H1804V495.5H1801.5ZM1798.1 327H1800V495.5H1798.1ZM1802.5 472H1805V495.5H1802.5ZM1856.3 464.1H1859.8V495.5H1856.3Z"/>
</g>
<g>
<path fill="#000" d="M1871 848.6H1875V859.5H1871ZM1869.9 857.1H1871.7V859.5H1869.9Z"/>
<path fill="#f00" d="M1660 634.8H1663.8V859.5H1660ZM1658.9 676H1660.4V859.5H1658.9ZM1721.1 585.5H1724.9V859.5H1721.1ZM1719.9 672.8H1721.4V859.5H1719.9ZM1752.2 585.5H1756V859.5H1752.2ZM1749 824.8H1752.7V859.5H1749ZM1757.9 585.5H1763.1V859.5H1757.9ZM1764.3 585.5H1769V859.5H1764.3ZM1762.8 658.9H1764.6V859.5H1762.8ZM1768.8 615.8H1770.2V859.5H1768.8ZM1756.8 832.3H1758.3V859.5H1756.8ZM1772 585.5H1776.5V859.5H1772ZM1776.2 588.2H1779.2V859.5H1776.2ZM1771 764.6H1772.3V859.5H1771ZM1778.9 760.9H1780.2V859.5H1778.9ZM1785.1 585.5H1790.6V859.5H1785.1ZM1790.3 647.8H1792.1V859.5H1790.3ZM1792.1 602.1H1796.1V859.5H1792.1ZM1798.1 585.5H1804.8V859.5H1798.1ZM1795.8 783.2H1798.4V859.5H1795.8ZM1855.4 585.5H1859.8V859.5H1855.4ZM1854.2 672.8H1855.7V859.5H1854.2ZM1850.1 830H1854.6V859.5H1850.1ZM1864.3 793.1H1868V859.5H1864.3ZM1867.7 819.2H1869V859.5H1867.7ZM1868.8 850.1H1869.9V859.5H1868.8Z"/>
<path fill="#000" d="M1770.2 774.2H1770.9V839.7H1770.2ZM1775.1 792.8H1775.8V859.5H1775.1ZM1780.1 836H1781V858.3H1780.1Z"/>
</g>
<g>
<path fill="#000" d="M1871 858.5H1875V866.4H1871Z"/>
<path fill="#f00" d="M1650 981H1653.7V1132.5H1650ZM1659.2 858.5H1663.7V924.5H1659.2ZM1663.4 867.2H1664.9V1132.5H1663.4ZM1657.4 924.5H1663.7V1132.5H1657.4ZM1656.2 946.1H1657.7V1132.5H1656.2ZM1655.2 1039.1H1656.5V1132.5H1655.2ZM1667.1 1090.4H1670.8V1132.5H1667.1ZM1670.5 1096.4H1671.9V1132.5H1670.5ZM1666.1 1114.2H1667.4V1132.5H1666.1ZM1675.3 1042.3H1679V1132.5H1675.3ZM1695.1 1064.4H1698.8V1132.5H1695.1ZM1698.5 1101.6H1699.9V1132.5H1698.5ZM1705.1 987.3H1708.8V1132.5H1705.1ZM1711 920.3H1714.9V1132.5H1711ZM1714.6 1005.1H1718.2V1132.5H1714.6ZM1710 1010.8H1711.3V1132.5H1710ZM1717.9 1074.8H1719.9V1132.5H1717.9ZM1708.6 1120.9H1710.3V1132.5H1708.6ZM1720.2 858.5H1724.9V1132.5H1720.2ZM1724.6 934.1H1725.9V1132.5H1724.6ZM1719.2 1045H1720.5V1132.5H1719.2ZM1749.3 858.5H1775V1132.5H1749.3ZM1745.2 1038.3H1749.7V1132.5H1745.2ZM1776.8 858.5H1781V930.4H1776.8ZM1778 885H1782V1132.5H1778ZM1785.1 858.5H1796.6V1132.5H1785.1ZM1797.3 858.5H1800.6V924.5H1797.3ZM1796.3 988.5H1800.3V1132.5H1796.3ZM1801.8 858.5H1805.1V997.4H1801.8ZM1802.1 995.9L1805.5 995.9L1806.2 1073.3L1803.3 1073.3ZM1803 1074H1808.9V1132.5H1803ZM1783.9 1080H1785.4V1132.5H1783.9ZM1825 1069.6H1828.6V1132.5H1825ZM1830.2 1091.1H1833.9V1132.5H1830.2ZM1850.1 858.5H1859.8V903.6H1850.1ZM1850.1 903.6H1856.1V1132.5H1850.1ZM1856.8 903.6H1860.1V1037.6H1856.8ZM1857.1 1037.6L1860.1 1037.6L1861.3 1094.1L1858.3 1094.1ZM1849 1051H1850.4V1132.5H1849ZM1864.3 858.5H1868V906.6H1864.3ZM1863.1 905.9H1867V1095.6H1863.1ZM1856.1 1095.6H1866.5V1132.5H1856.1ZM1868 865.7H1874.7V881.3H1868ZM1871 879.8H1875V899.2H1871ZM1871.7 897.7L1875.9 897.7L1876.9 979.5L1872.8 979.5ZM1872.8 979.5L1876.9 979.5L1878.1 1132.5L1873.7 1132.5Z"/>
<path fill="#000" d="M1659.1 991.1H1660.9V1029.4H1659.1ZM1659.2 1029.4H1659.8V1121.6H1659.2ZM1661.2 1105.3H1662V1117.9H1661.2ZM1711.5 919H1714.4V920.8H1711.5ZM1766.1 1085.2H1767V1132.5H1766.1ZM1775.6 863.5H1776.8V897.7H1775.6ZM1775.1 897.7H1775.8V914.1H1775.1ZM1800.2 924.2H1801V1070.3H1800.2ZM1805.1 996.2H1805.9V1011.5H1805.1ZM1856 899.9H1856.8V990.7H1856ZM1855.3 1058.4H1856V1132.5H1855.3ZM1867.2 863.5H1867.9V946.8H1867.2ZM1866.2 1033.1H1866.8V1132.5H1866.2ZM1872.2 955.7H1873V1005.6H1872.2ZM1873.1 1069.1H1873.9V1132.5H1873.1Z"/>
</g>
<g>
<path fill="#000" d="M1685 1322.8H1689V1405.5H1685ZM1760.1 1206.4H1766.1V1249.6H1760.1ZM1762.1 1249.6H1766.1V1340.6H1762.1ZM1802.1 1259.2H1807.3V1288.2H1802.1ZM1803 1282.3H1807.7V1393.9H1803ZM1853.1 1161.8H1856.1V1210.1H1853.1ZM1853.1 1210.1H1855.4V1361.2H1853.1ZM1857.1 1175.9H1859.4V1344.8H1857.1ZM1857.6 1344.8H1860.1V1359.4H1857.6Z"/>
<path fill="#f00" d="M1650 1131.5H1658.6V1405.5H1650ZM1662.2 1131.5H1672V1405.5H1662.2ZM1671.7 1263H1673.1V1405.5H1671.7ZM1675.3 1131.5H1679V1405.5H1675.3ZM1678.7 1178.9H1680.5V1405.5H1678.7ZM1680.2 1194.5H1682V1405.5H1680.2ZM1681.7 1228.7H1683V1405.5H1681.7ZM1682.7 1300.9H1685V1405.5H1682.7ZM1674.1 1333.6H1675.6V1405.5H1674.1ZM1695.1 1131.5H1699.9V1338.8H1695.1ZM1695.1 1338.8H1701V1347.8H1695.1ZM1694.2 1347.8H1701.3V1405.5H1694.2ZM1705.1 1131.5H1725.9V1173.7H1705.1ZM1703.9 1172.9H1725.9V1279.3H1703.9ZM1703.9 1278.6H1727.1V1405.5H1703.9ZM1700.6 1380.5H1704.3V1405.5H1700.6ZM1738.1 1396.6H1742V1405.5H1738.1ZM1745.2 1131.5H1766.1V1145.4H1745.2ZM1745.2 1145.4H1760.9V1258.5H1745.2ZM1744 1257.7H1760.9V1405.5H1744ZM1761.6 1145.4H1766.4V1206.4H1761.6ZM1767.6 1131.5H1774.7V1390.9H1767.6ZM1768 1390.9H1773.8V1405.5H1768ZM1778.3 1131.5H1781.7V1204.9H1778.3ZM1779.2 1204.9H1782.4V1315H1779.2ZM1779.2 1315H1787.6V1347.8H1779.2ZM1781 1347.8H1787.6V1405.5H1781ZM1783.9 1131.5H1799.6V1189.3H1783.9ZM1783.9 1189.3H1788.4V1268.9H1783.9ZM1789.1 1189.3H1799.6V1350.8H1789.1ZM1787.6 1268.9H1789.9V1350.8H1787.6ZM1802.1 1131.5H1808.9V1152.1H1802.1ZM1802.5 1152.1H1810V1228H1802.5ZM1803.3 1228H1811V1260H1803.3ZM1807 1260H1811.9V1405.5H1807ZM1825.3 1131.5H1834.1V1136.5H1825.3ZM1824.1 1136.5H1829.3V1405.5H1824.1ZM1830.4 1136.5H1834.1V1245.1H1830.4ZM1829 1244.4H1834.5V1405.5H1829ZM1834.2 1360.4H1835.3V1405.5H1834.2ZM1849.1 1131.5H1855.7V1161.8H1849.1ZM1849.1 1161.8H1853.1V1405.5H1849.1ZM1857.1 1131.5H1866.1V1176.6H1857.1ZM1859.1 1176.6H1865.8V1261.5H1859.1ZM1859.1 1261.5H1865V1405.5H1859.1ZM1873.2 1131.5L1877.7 1131.5L1879.2 1206.4L1875 1206.4ZM1875 1206.4L1879.2 1206.4L1879.9 1251L1875.9 1251ZM1876.5 1251H1879.9V1405.5H1876.5Z"/>
<path fill="#000" d="M1658.1 1320.2H1658.9V1405.5H1658.1ZM1650 1389.4H1651.5V1405.5H1650ZM1662.1 1273.1H1662.9V1352.2H1662.1ZM1662.6 1352.2H1664.1V1398.4H1662.6ZM1663.5 1397.6H1668.7V1405.5H1663.5ZM1667.9 1318H1668.7V1398.4H1667.9ZM1681.1 1390.9H1682V1405.5H1681.1ZM1722 1239.1H1722.9V1329.9H1722ZM1719 1337.1H1722V1405.5H1719ZM1716.2 1352.2H1719.2V1405.5H1716.2ZM1760.1 1169.2H1761V1206.4H1760.1ZM1761.1 1145.4H1761.8V1169.2H1761.1ZM1760.1 1288.2H1760.7V1391.7H1760.1ZM1752.4 1316.2H1753.9V1364.1H1752.4ZM1748.1 1364.1H1753.7V1405.5H1748.1ZM1766.4 1131.5H1767.6V1196H1766.4ZM1774.1 1165H1774.7V1390.2H1774.1ZM1778.2 1204.9H1778.9V1330.7H1778.2ZM1779.3 1347.8H1780.8V1405.5H1779.3ZM1787.9 1159.1H1788.8V1239.9H1787.9ZM1787.3 1268.9H1788V1405.5H1787.3ZM1789.7 1350.8H1793V1383.5H1789.7ZM1790.8 1383.5H1794V1405.5H1790.8ZM1799.3 1189.3H1799.9V1405.5H1799.3ZM1802.2 1198.2H1802.9V1259.2H1802.2ZM1807 1392.4H1807.6V1405.5H1807ZM1866.2 1131.5H1866.8V1261.5H1866.2ZM1865.2 1261.5H1866.4V1280.8H1865.2ZM1872.9 1131.5H1873.5V1168.5H1872.9ZM1873.7 1168.5H1874.9V1233.2H1873.7ZM1873.2 1233.2H1874.7V1283.8H1873.2ZM1874.6 1283.8H1875.4V1341.1H1874.6ZM1874.9 1341.1H1876.6V1405.5H1874.9Z"/>
</g>
<g>
<path fill="#000" d="M1650 1404.5H1658.9V1515.1H1650ZM1650 1515.1H1653V1541.9H1650ZM1652.2 1515.1H1658.2V1583.6H1652.2ZM1653.7 1583.6H1657.7V1616H1653.7ZM1662.6 1404.5H1669.6V1503.2H1662.6ZM1663.8 1503.2H1668.2V1564.5H1663.8ZM1669.3 1528.5H1681.5V1614.8H1669.3ZM1671.6 1613.3H1678.3V1637.1H1671.6ZM1672.3 1637.1H1677.1V1665.7H1672.3ZM1685.7 1404.5H1690.2V1565.7H1685.7ZM1687.2 1564.2H1693.5V1623.8H1687.2ZM1689.9 1623.8H1693.2V1644.9H1689.9ZM1693.9 1445.2H1702.1V1520.3H1693.9ZM1693.9 1520.3H1698.4V1567.5H1693.9ZM1707.3 1404.5H1716.2V1473.5H1707.3ZM1715.5 1404.5H1722.2V1422.1H1715.5ZM1707 1473.5H1712.2V1533.3H1707ZM1748.2 1404.5H1754.2V1476.4H1748.2ZM1748.2 1476.4H1752.7V1530.7H1748.2ZM1754.2 1523.3H1760.1V1599.9H1754.2ZM1754.9 1598.5H1759.4V1644.9H1754.9ZM1768.3 1562.7H1773.8V1608.9H1768.3ZM1769 1607.4H1773.2V1649H1769ZM1779.2 1404.5H1787.6V1432.5H1779.2ZM1779.2 1432.5H1782.4V1533H1779.2ZM1781 1533H1783.9V1616.3H1781ZM1782.1 1614.8H1786.9V1628.2H1782.1ZM1782.1 1628.2H1786.2V1651.3H1782.1ZM1789.1 1404.5H1794.6V1517.4H1789.1ZM1793.6 1446.7H1800.3V1517.4H1793.6ZM1793.6 1516.6H1798.8V1611.1H1793.6ZM1808.9 1611.1H1814.4V1646.8H1808.9ZM1827.1 1538.9H1832.3V1616.3H1827.1ZM1832.3 1616.3H1836V1643.1H1832.3ZM1847.9 1427.3H1853.1V1592.8H1847.9ZM1859.1 1446.7H1865.8V1503.2H1859.1ZM1859.4 1503.2H1865V1607.4H1859.4ZM1860.1 1607.4H1864.3V1614.5H1860.1Z"/>
<path fill="none" stroke="#000" stroke-width="4" stroke-linejoin="round" d="M1729.6 1598.5L1730.4 1619.3L1733.3 1625.2L1734.1 1631.2L1738.5 1628.2"/>
<path fill="none" stroke="#000" stroke-width="4.5" stroke-linejoin="round" d="M1813.7 1628.2L1814.9 1649L1816.7 1656.5L1821.1 1658L1825.3 1655.7L1825.6 1634.2L1827.8 1628.2L1829.3 1643.1L1830.8 1634.2L1834.5 1634.2L1835.3 1652L1836.8 1655L1839 1652L1840.2 1619.3L1839 1583.6L1841.2 1573.2L1842.7 1598.5L1844.9 1581.3L1847.2 1582.1L1847.9 1599.9L1850.1 1598.5L1850.9 1591M1875.9 1405L1875.9 1538.9L1876.9 1613.3L1877.4 1658L1879.2 1664.7L1916.4 1665.4"/>
<path fill="#f00" d="M1653 1404.5H1658.5V1470.5H1653ZM1672.3 1404.5H1682V1432.5H1672.3ZM1669.3 1431.8H1682V1503.2H1669.3ZM1669.3 1503.2H1681.5V1528.5H1669.3ZM1670.8 1528.5H1676.3V1549.6H1670.8ZM1682 1404.5L1686.2 1404.5L1687.2 1553.8L1683 1553.8ZM1683 1553.8L1687.2 1553.8L1689.9 1620.8L1685 1620.8ZM1685 1620.8L1690.2 1620.8L1690.2 1646.4L1685.7 1646.4ZM1689 1521.1H1693.5V1623.8H1689ZM1693.2 1404.5H1715.5V1409.5H1693.2ZM1692.4 1409.5H1712.5V1445.2H1692.4ZM1691.4 1432.5H1711V1457.1H1691.4ZM1693.9 1457.1H1699.4V1478.7H1693.9ZM1701.3 1445.2H1707.3V1637.1H1701.3ZM1702.8 1637.1H1706.5V1641.6H1702.8ZM1722.9 1404.5L1727.1 1404.5L1728.6 1553.8L1724.4 1553.8ZM1724.4 1553.8L1728.6 1553.8L1730.4 1628.2L1725.6 1628.2ZM1726.2 1628.2H1739V1634.2H1726.2ZM1730.4 1633.4H1738.5V1639.4H1730.4ZM1736.3 1469H1740.8V1628.2H1736.3ZM1738.1 1404.5H1742.3V1469H1738.1ZM1743.8 1404.5H1748.2V1469H1743.8ZM1742 1451.1H1744V1469H1742ZM1739.3 1469H1747.8V1568.7H1739.3ZM1740.8 1568.7H1747.5V1595.5H1740.8ZM1741.5 1595.5H1746.7V1634.9H1741.5ZM1754.2 1404.5H1759.7V1460.1H1754.2ZM1754.6 1460.1H1759.4V1524H1754.6ZM1768.3 1404.5H1773.8V1480.9H1768.3ZM1769 1480.9H1773.5V1563.5H1769ZM1781.4 1404.5H1787.2V1466H1781.4ZM1782.1 1466H1786.2V1615.1H1782.1ZM1794.3 1404.5H1799.6V1447.4H1794.3ZM1807.7 1404.5H1812.2V1437.7H1807.7ZM1808.2 1437L1813.7 1437L1815.9 1524L1810.4 1524ZM1810.7 1522.6H1816.2V1544.9H1810.7ZM1808.9 1544.1H1813.7V1611.1H1808.9ZM1812.9 1552.3H1820.4V1591H1812.9ZM1816.7 1558.3H1827.1V1616.3H1816.7ZM1818.2 1616.3H1826.3V1628.2H1818.2ZM1819.3 1628.2H1822.9V1634.9H1819.3ZM1823.4 1404.5H1835.3V1538.9H1823.4ZM1822.6 1417.6H1824.1V1553.8H1822.6ZM1826.3 1537.4H1835.3V1561.2H1826.3ZM1832.3 1559.8H1836V1616.3H1832.3ZM1837.2 1427.3H1841.2V1494.3H1837.2ZM1836 1492.8H1840.5V1534.5H1836ZM1835.3 1533H1839.7V1573.2H1835.3ZM1841.2 1411H1848.7V1446.7H1841.2ZM1838.2 1427.3H1843.5V1446.7H1838.2ZM1844.9 1445.2H1850.1V1464.5H1844.9ZM1848.7 1404.5H1852.7V1427.3H1848.7ZM1859.1 1404.5H1865.8V1447.4H1859.1ZM1876.9 1404.5H1880.4V1446.7H1876.9ZM1877.2 1445.9L1880.7 1445.9L1881.8 1598.5L1878.4 1598.5Z"/>
<path fill="none" stroke="#f00" stroke-width="4" stroke-linejoin="round" d="M1880.4 1595.5L1882.9 1594L1886.6 1597L1891.8 1601.4L1897 1604.4L1903 1606.2L1908.9 1606.3L1916.1 1606.2"/>
<path fill="#000" d="M1723.3 1459.3H1724V1491.6H1723.3ZM1728.5 1533H1729.2V1599.9H1728.5ZM1740 1568.7H1740.7V1591H1740ZM1747.1 1594H1747.8V1601.1H1747.1ZM1759.3 1460.1H1760V1524H1759.3ZM1768.2 1417.6H1769V1563.5H1768.2ZM1773.2 1480.9H1773.8V1563.5H1773.2ZM1807.7 1449.6H1808.4V1479.4H1807.7Z"/>
</g>
</g>
<g font-size="64">
<text x="131.3" y="1689.8" text-anchor="end">0</text>
<text x="131.3" y="1508.9" text-anchor="end">1</text>
<text x="131.3" y="1328.0" text-anchor="end">2</text>
<text x="131.3" y="1147.2" text-anchor="end">3</text>
<text x="131.3" y="966.3" text-anchor="end">4</text>
<text x="131.3" y="785.4" text-anchor="end">5</text>
<text x="131.3" y="604.5" text-anchor="end">6</text>
<text x="131.3" y="423.6" text-anchor="end">7</text>
<text x="131.3" y="242.8" text-anchor="end">8</text>
<text x="131.3" y="61.9" text-anchor="end">9</text>
<text x="140.3" y="1785.3" letter-spacing="-1.6">0</text>
<text x="248.2" y="1785.3" letter-spacing="-1.6">100</text>
<text x="390.0" y="1785.3" letter-spacing="-1.6">200</text>
<text x="531.9" y="1785.3" letter-spacing="-1.6">300</text>
<text x="673.7" y="1785.3" letter-spacing="-1.6">400</text>
<text x="815.5" y="1785.3" letter-spacing="-1.6">500</text>
<text x="957.4" y="1785.3" letter-spacing="-1.6">600</text>
<text x="1099.2" y="1785.3" letter-spacing="-1.6">700</text>
<text x="1241.1" y="1785.3" letter-spacing="-1.6">800</text>
<text x="1383.0" y="1785.3" letter-spacing="-1.6">900</text>
<text x="1507.8" y="1785.3" letter-spacing="-1.6">1000</text>
<text x="1649.7" y="1785.3" letter-spacing="-1.6">1100</text>
<text x="1791.5" y="1785.3" letter-spacing="-1.6">1200</text>
<text x="1933.4" y="1785.3" letter-spacing="-1.6">1300</text>
</g>
<g font-size="62">
<text x="1079.6" y="1865.5" text-anchor="middle" textLength="105" lengthAdjust="spacingAndGlyphs">t [s]</text>
<text transform="translate(63.0 852.3) rotate(-90)" text-anchor="middle" textLength="421.5" lengthAdjust="spacingAndGlyphs">bsNOx [g/kWh]</text>
<text x="1197.0" y="194.4" textLength="424.5" lengthAdjust="spacingAndGlyphs">Detailed Model</text>
<text x="1197.0" y="291.1" textLength="559" lengthAdjust="spacingAndGlyphs">Simplified 1D Model</text>
</g>
<line x1="1004" y1="171.7" x2="1169.5" y2="171.7" stroke="#000" stroke-width="3.3" stroke-linecap="round"/>
<line x1="1004" y1="267.5" x2="1169.5" y2="267.5" stroke="#ff0000" stroke-width="3.3" stroke-linecap="round"/>
</svg>
</body>
</html>
